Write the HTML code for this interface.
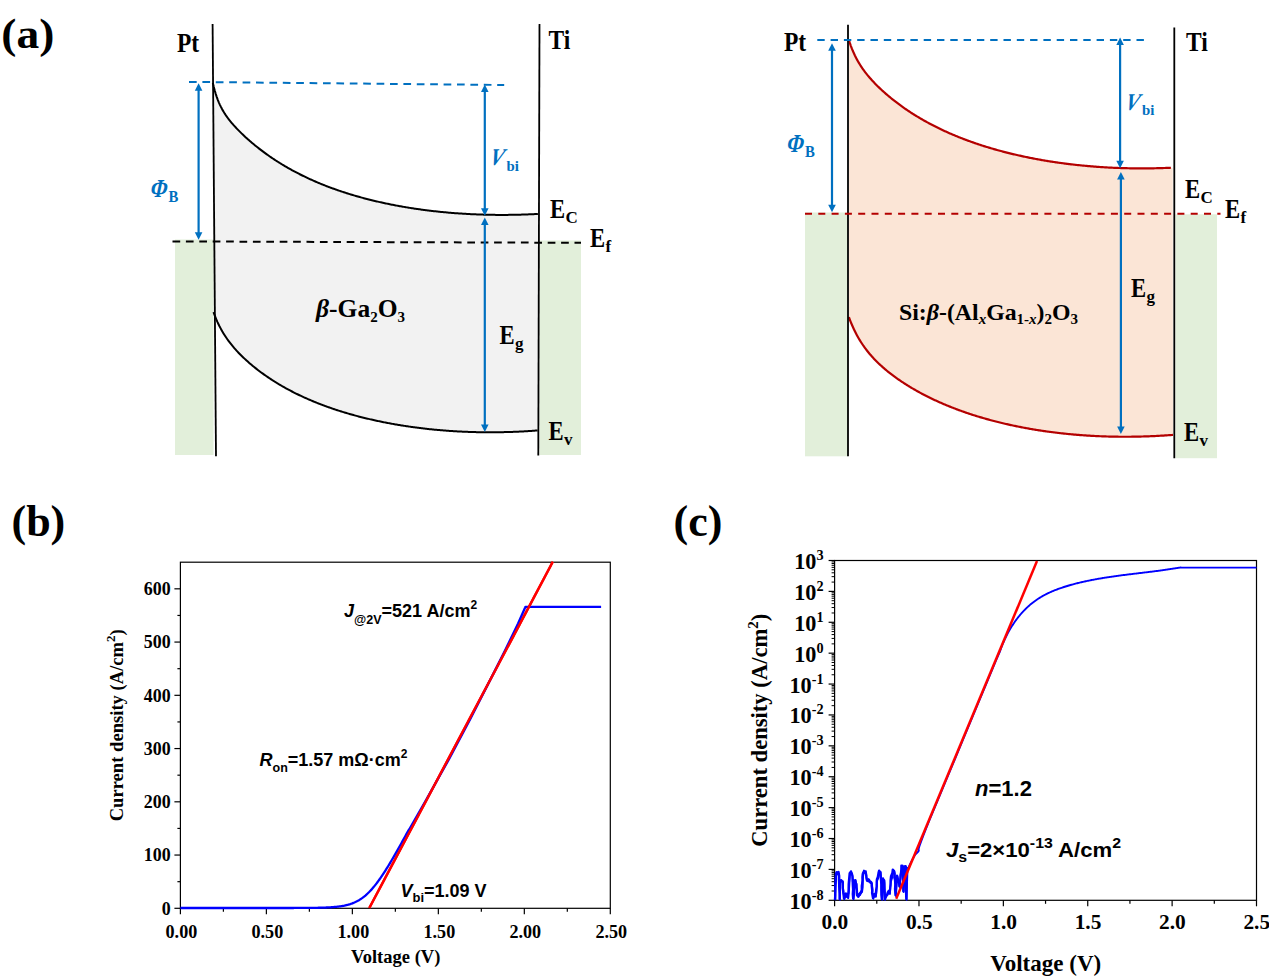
<!DOCTYPE html><html><head><meta charset="utf-8"><style>html,body{margin:0;padding:0;background:#fff;overflow:hidden}svg{display:block}</style></head><body>
<svg width="1269" height="979" viewBox="0 0 1269 979">
<rect width="1269" height="979" fill="#fff"/>
<path d="M212.80,82.71 L213.80,86.96 L214.80,90.72 L215.80,94.08 L216.80,97.09 L217.80,99.81 L218.80,102.29 L219.80,104.56 L220.80,106.64 L221.80,108.58 L222.80,110.38 L223.80,112.07 L224.80,113.67 L225.80,115.18 L226.80,116.62 L227.80,118.00 L228.80,119.33 L229.80,120.61 L230.80,121.84 L231.80,123.04 L232.80,124.21 L233.80,125.34 L234.80,126.45 L235.80,127.54 L236.80,128.60 L237.80,129.64 L238.80,130.66 L239.80,131.67 L240.80,132.66 L241.80,133.63 L242.80,134.59 L243.80,135.54 L244.80,136.47 L245.80,137.39 L246.80,138.30 L247.80,139.20 L248.80,140.08 L249.80,140.95 L250.80,141.82 L251.80,142.67 L252.80,143.51 L253.80,144.34 L254.80,145.17 L255.80,145.98 L256.80,146.78 L257.80,147.58 L258.80,148.36 L259.80,149.14 L260.80,149.91 L261.80,150.67 L262.80,151.42 L263.80,152.16 L264.80,152.90 L265.80,153.62 L266.80,154.34 L267.80,155.05 L268.80,155.76 L269.80,156.45 L270.80,157.14 L271.80,157.82 L272.80,158.49 L273.80,159.16 L274.80,159.82 L275.80,160.47 L276.80,161.12 L277.80,161.75 L278.80,162.39 L279.80,163.01 L280.80,163.63 L281.80,164.24 L282.80,164.85 L283.80,165.45 L284.80,166.04 L285.80,166.63 L286.80,167.21 L287.80,167.78 L288.80,168.35 L289.80,168.91 L290.80,169.47 L291.80,170.02 L292.80,170.57 L293.80,171.11 L294.80,171.64 L295.80,172.17 L296.80,172.70 L297.80,173.21 L298.80,173.73 L299.80,174.24 L300.80,174.74 L301.80,175.24 L302.80,175.73 L303.80,176.22 L304.80,176.70 L305.80,177.18 L306.80,177.65 L307.80,178.12 L308.80,178.59 L309.80,179.05 L310.80,179.50 L311.80,179.95 L312.80,180.40 L313.80,180.84 L314.80,181.28 L315.80,181.71 L316.80,182.14 L317.80,182.56 L318.80,182.98 L319.80,183.40 L320.80,183.81 L321.80,184.22 L322.80,184.62 L323.80,185.02 L324.80,185.42 L325.80,185.81 L326.80,186.20 L327.80,186.58 L328.80,186.96 L329.80,187.34 L330.80,187.71 L331.80,188.08 L332.80,188.45 L333.80,188.81 L334.80,189.17 L335.80,189.52 L336.80,189.87 L337.80,190.22 L338.80,190.57 L339.80,190.91 L340.80,191.25 L341.80,191.58 L342.80,191.91 L343.80,192.24 L344.80,192.57 L345.80,192.89 L346.80,193.21 L347.80,193.52 L348.80,193.84 L349.80,194.14 L350.80,194.45 L351.80,194.75 L352.80,195.05 L353.80,195.35 L354.80,195.65 L355.80,195.94 L356.80,196.23 L357.80,196.51 L358.80,196.79 L359.80,197.07 L360.80,197.35 L361.80,197.62 L362.80,197.90 L363.80,198.16 L364.80,198.43 L365.80,198.69 L366.80,198.95 L367.80,199.21 L368.80,199.47 L369.80,199.72 L370.80,199.97 L371.80,200.22 L372.80,200.46 L373.80,200.71 L374.80,200.95 L375.80,201.18 L376.80,201.42 L377.80,201.65 L378.80,201.88 L379.80,202.11 L380.80,202.33 L381.80,202.55 L382.80,202.77 L383.80,202.99 L384.80,203.21 L385.80,203.42 L386.80,203.63 L387.80,203.84 L388.80,204.05 L389.80,204.25 L390.80,204.45 L391.80,204.65 L392.80,204.85 L393.80,205.04 L394.80,205.24 L395.80,205.43 L396.80,205.61 L397.80,205.80 L398.80,205.98 L399.80,206.17 L400.80,206.35 L401.80,206.52 L402.80,206.70 L403.80,206.87 L404.80,207.04 L405.80,207.21 L406.80,207.38 L407.80,207.54 L408.80,207.71 L409.80,207.87 L410.80,208.03 L411.80,208.18 L412.80,208.34 L413.80,208.49 L414.80,208.64 L415.80,208.79 L416.80,208.94 L417.80,209.08 L418.80,209.22 L419.80,209.36 L420.80,209.50 L421.80,209.64 L422.80,209.78 L423.80,209.91 L424.80,210.04 L425.80,210.17 L426.80,210.30 L427.80,210.42 L428.80,210.55 L429.80,210.67 L430.80,210.79 L431.80,210.91 L432.80,211.02 L433.80,211.14 L434.80,211.25 L435.80,211.36 L436.80,211.47 L437.80,211.58 L438.80,211.68 L439.80,211.79 L440.80,211.89 L441.80,211.99 L442.80,212.09 L443.80,212.18 L444.80,212.28 L445.80,212.37 L446.80,212.46 L447.80,212.55 L448.80,212.64 L449.80,212.72 L450.80,212.81 L451.80,212.89 L452.80,212.97 L453.80,213.05 L454.80,213.13 L455.80,213.20 L456.80,213.28 L457.80,213.35 L458.80,213.42 L459.80,213.49 L460.80,213.56 L461.80,213.62 L462.80,213.68 L463.80,213.75 L464.80,213.81 L465.80,213.87 L466.80,213.92 L467.80,213.98 L468.80,214.03 L469.80,214.08 L470.80,214.14 L471.80,214.18 L472.80,214.23 L473.80,214.28 L474.80,214.32 L475.80,214.36 L476.80,214.40 L477.80,214.44 L478.80,214.48 L479.80,214.52 L480.80,214.55 L481.80,214.58 L482.80,214.62 L483.80,214.64 L484.80,214.67 L485.80,214.70 L486.80,214.72 L487.80,214.75 L488.80,214.77 L489.80,214.79 L490.80,214.81 L491.80,214.82 L492.80,214.84 L493.80,214.85 L494.80,214.87 L495.80,214.88 L496.80,214.89 L497.80,214.89 L498.80,214.90 L499.80,214.90 L500.80,214.91 L501.80,214.91 L502.80,214.91 L503.80,214.91 L504.80,214.90 L505.80,214.90 L506.80,214.89 L507.80,214.88 L508.80,214.87 L509.80,214.86 L510.80,214.85 L511.80,214.84 L512.80,214.82 L513.80,214.80 L514.80,214.79 L515.80,214.77 L516.80,214.74 L517.80,214.72 L518.80,214.70 L519.80,214.67 L520.80,214.64 L521.80,214.61 L522.80,214.58 L523.80,214.55 L524.80,214.52 L525.80,214.48 L526.80,214.45 L527.80,214.41 L528.80,214.37 L529.80,214.33 L530.80,214.29 L531.80,214.24 L532.80,214.20 L533.80,214.15 L534.80,214.10 L535.80,214.05 L536.80,214.00 L537.80,213.95 L537.90,213.94 L538.3,430.5 L537.60,430.45 L537.50,430.46 L536.50,430.54 L535.50,430.61 L534.50,430.68 L533.50,430.75 L532.50,430.82 L531.50,430.89 L530.50,430.96 L529.50,431.02 L528.50,431.09 L527.50,431.15 L526.50,431.21 L525.50,431.27 L524.50,431.32 L523.50,431.38 L522.50,431.43 L521.50,431.48 L520.50,431.53 L519.50,431.58 L518.50,431.63 L517.50,431.68 L516.50,431.72 L515.50,431.76 L514.50,431.80 L513.50,431.84 L512.50,431.88 L511.50,431.91 L510.50,431.95 L509.50,431.98 L508.50,432.01 L507.50,432.04 L506.50,432.07 L505.50,432.10 L504.50,432.12 L503.50,432.14 L502.50,432.16 L501.50,432.18 L500.50,432.20 L499.50,432.22 L498.50,432.23 L497.50,432.24 L496.50,432.26 L495.50,432.27 L494.50,432.27 L493.50,432.28 L492.50,432.28 L491.50,432.29 L490.50,432.29 L489.50,432.29 L488.50,432.29 L487.50,432.28 L486.50,432.28 L485.50,432.27 L484.50,432.26 L483.50,432.25 L482.50,432.24 L481.50,432.23 L480.50,432.21 L479.50,432.19 L478.50,432.18 L477.50,432.15 L476.50,432.13 L475.50,432.11 L474.50,432.08 L473.50,432.06 L472.50,432.03 L471.50,432.00 L470.50,431.96 L469.50,431.93 L468.50,431.90 L467.50,431.86 L466.50,431.82 L465.50,431.78 L464.50,431.74 L463.50,431.69 L462.50,431.65 L461.50,431.60 L460.50,431.55 L459.50,431.50 L458.50,431.44 L457.50,431.39 L456.50,431.33 L455.50,431.27 L454.50,431.21 L453.50,431.15 L452.50,431.09 L451.50,431.02 L450.50,430.96 L449.50,430.89 L448.50,430.82 L447.50,430.75 L446.50,430.67 L445.50,430.60 L444.50,430.52 L443.50,430.44 L442.50,430.36 L441.50,430.28 L440.50,430.19 L439.50,430.10 L438.50,430.02 L437.50,429.92 L436.50,429.83 L435.50,429.74 L434.50,429.64 L433.50,429.55 L432.50,429.45 L431.50,429.34 L430.50,429.24 L429.50,429.14 L428.50,429.03 L427.50,428.92 L426.50,428.81 L425.50,428.70 L424.50,428.58 L423.50,428.47 L422.50,428.35 L421.50,428.23 L420.50,428.11 L419.50,427.98 L418.50,427.86 L417.50,427.73 L416.50,427.60 L415.50,427.47 L414.50,427.33 L413.50,427.20 L412.50,427.06 L411.50,426.92 L410.50,426.78 L409.50,426.63 L408.50,426.49 L407.50,426.34 L406.50,426.19 L405.50,426.04 L404.50,425.88 L403.50,425.73 L402.50,425.57 L401.50,425.41 L400.50,425.25 L399.50,425.08 L398.50,424.92 L397.50,424.75 L396.50,424.58 L395.50,424.41 L394.50,424.23 L393.50,424.05 L392.50,423.88 L391.50,423.69 L390.50,423.51 L389.50,423.33 L388.50,423.14 L387.50,422.95 L386.50,422.76 L385.50,422.56 L384.50,422.36 L383.50,422.16 L382.50,421.96 L381.50,421.76 L380.50,421.55 L379.50,421.35 L378.50,421.13 L377.50,420.92 L376.50,420.71 L375.50,420.49 L374.50,420.27 L373.50,420.05 L372.50,419.82 L371.50,419.59 L370.50,419.36 L369.50,419.13 L368.50,418.90 L367.50,418.66 L366.50,418.42 L365.50,418.18 L364.50,417.93 L363.50,417.68 L362.50,417.43 L361.50,417.18 L360.50,416.93 L359.50,416.67 L358.50,416.41 L357.50,416.14 L356.50,415.88 L355.50,415.61 L354.50,415.34 L353.50,415.06 L352.50,414.78 L351.50,414.50 L350.50,414.22 L349.50,413.93 L348.50,413.65 L347.50,413.35 L346.50,413.06 L345.50,412.76 L344.50,412.46 L343.50,412.16 L342.50,411.85 L341.50,411.54 L340.50,411.23 L339.50,410.91 L338.50,410.59 L337.50,410.27 L336.50,409.94 L335.50,409.61 L334.50,409.28 L333.50,408.94 L332.50,408.60 L331.50,408.26 L330.50,407.91 L329.50,407.56 L328.50,407.21 L327.50,406.85 L326.50,406.49 L325.50,406.13 L324.50,405.76 L323.50,405.39 L322.50,405.01 L321.50,404.63 L320.50,404.25 L319.50,403.86 L318.50,403.47 L317.50,403.08 L316.50,402.68 L315.50,402.28 L314.50,401.87 L313.50,401.46 L312.50,401.04 L311.50,400.62 L310.50,400.20 L309.50,399.77 L308.50,399.34 L307.50,398.90 L306.50,398.46 L305.50,398.01 L304.50,397.56 L303.50,397.11 L302.50,396.64 L301.50,396.18 L300.50,395.71 L299.50,395.23 L298.50,394.75 L297.50,394.27 L296.50,393.78 L295.50,393.28 L294.50,392.78 L293.50,392.27 L292.50,391.76 L291.50,391.24 L290.50,390.72 L289.50,390.19 L288.50,389.66 L287.50,389.12 L286.50,388.57 L285.50,388.02 L284.50,387.46 L283.50,386.90 L282.50,386.32 L281.50,385.75 L280.50,385.16 L279.50,384.57 L278.50,383.98 L277.50,383.37 L276.50,382.76 L275.50,382.14 L274.50,381.52 L273.50,380.89 L272.50,380.25 L271.50,379.60 L270.50,378.95 L269.50,378.28 L268.50,377.61 L267.50,376.93 L266.50,376.25 L265.50,375.55 L264.50,374.85 L263.50,374.14 L262.50,373.42 L261.50,372.69 L260.50,371.95 L259.50,371.20 L258.50,370.44 L257.50,369.67 L256.50,368.89 L255.50,368.10 L254.50,367.30 L253.50,366.49 L252.50,365.67 L251.50,364.84 L250.50,363.99 L249.50,363.13 L248.50,362.26 L247.50,361.37 L246.50,360.48 L245.50,359.56 L244.50,358.63 L243.50,357.69 L242.50,356.73 L241.50,355.75 L240.50,354.75 L239.50,353.73 L238.50,352.69 L237.50,351.64 L236.50,350.55 L235.50,349.45 L234.50,348.31 L233.50,347.15 L232.50,345.96 L231.50,344.74 L230.50,343.48 L229.50,342.18 L228.50,340.85 L227.50,339.47 L226.50,338.04 L225.50,336.56 L224.50,335.02 L223.50,333.41 L222.50,331.74 L221.50,329.99 L220.50,328.16 L219.50,326.24 L218.50,324.21 L217.50,322.08 L216.50,319.81 L215.50,317.41 L214.50,314.86 L213.50,312.14 Z" fill="#F2F2F2"/>
<rect x="175" y="239.5" width="38.5" height="215.5" fill="#E2EFDA"/>
<rect x="539.5" y="240.5" width="41.5" height="214.5" fill="#E2EFDA"/>
<path d="M212.80,82.71 L213.80,86.96 L214.80,90.72 L215.80,94.08 L216.80,97.09 L217.80,99.81 L218.80,102.29 L219.80,104.56 L220.80,106.64 L221.80,108.58 L222.80,110.38 L223.80,112.07 L224.80,113.67 L225.80,115.18 L226.80,116.62 L227.80,118.00 L228.80,119.33 L229.80,120.61 L230.80,121.84 L231.80,123.04 L232.80,124.21 L233.80,125.34 L234.80,126.45 L235.80,127.54 L236.80,128.60 L237.80,129.64 L238.80,130.66 L239.80,131.67 L240.80,132.66 L241.80,133.63 L242.80,134.59 L243.80,135.54 L244.80,136.47 L245.80,137.39 L246.80,138.30 L247.80,139.20 L248.80,140.08 L249.80,140.95 L250.80,141.82 L251.80,142.67 L252.80,143.51 L253.80,144.34 L254.80,145.17 L255.80,145.98 L256.80,146.78 L257.80,147.58 L258.80,148.36 L259.80,149.14 L260.80,149.91 L261.80,150.67 L262.80,151.42 L263.80,152.16 L264.80,152.90 L265.80,153.62 L266.80,154.34 L267.80,155.05 L268.80,155.76 L269.80,156.45 L270.80,157.14 L271.80,157.82 L272.80,158.49 L273.80,159.16 L274.80,159.82 L275.80,160.47 L276.80,161.12 L277.80,161.75 L278.80,162.39 L279.80,163.01 L280.80,163.63 L281.80,164.24 L282.80,164.85 L283.80,165.45 L284.80,166.04 L285.80,166.63 L286.80,167.21 L287.80,167.78 L288.80,168.35 L289.80,168.91 L290.80,169.47 L291.80,170.02 L292.80,170.57 L293.80,171.11 L294.80,171.64 L295.80,172.17 L296.80,172.70 L297.80,173.21 L298.80,173.73 L299.80,174.24 L300.80,174.74 L301.80,175.24 L302.80,175.73 L303.80,176.22 L304.80,176.70 L305.80,177.18 L306.80,177.65 L307.80,178.12 L308.80,178.59 L309.80,179.05 L310.80,179.50 L311.80,179.95 L312.80,180.40 L313.80,180.84 L314.80,181.28 L315.80,181.71 L316.80,182.14 L317.80,182.56 L318.80,182.98 L319.80,183.40 L320.80,183.81 L321.80,184.22 L322.80,184.62 L323.80,185.02 L324.80,185.42 L325.80,185.81 L326.80,186.20 L327.80,186.58 L328.80,186.96 L329.80,187.34 L330.80,187.71 L331.80,188.08 L332.80,188.45 L333.80,188.81 L334.80,189.17 L335.80,189.52 L336.80,189.87 L337.80,190.22 L338.80,190.57 L339.80,190.91 L340.80,191.25 L341.80,191.58 L342.80,191.91 L343.80,192.24 L344.80,192.57 L345.80,192.89 L346.80,193.21 L347.80,193.52 L348.80,193.84 L349.80,194.14 L350.80,194.45 L351.80,194.75 L352.80,195.05 L353.80,195.35 L354.80,195.65 L355.80,195.94 L356.80,196.23 L357.80,196.51 L358.80,196.79 L359.80,197.07 L360.80,197.35 L361.80,197.62 L362.80,197.90 L363.80,198.16 L364.80,198.43 L365.80,198.69 L366.80,198.95 L367.80,199.21 L368.80,199.47 L369.80,199.72 L370.80,199.97 L371.80,200.22 L372.80,200.46 L373.80,200.71 L374.80,200.95 L375.80,201.18 L376.80,201.42 L377.80,201.65 L378.80,201.88 L379.80,202.11 L380.80,202.33 L381.80,202.55 L382.80,202.77 L383.80,202.99 L384.80,203.21 L385.80,203.42 L386.80,203.63 L387.80,203.84 L388.80,204.05 L389.80,204.25 L390.80,204.45 L391.80,204.65 L392.80,204.85 L393.80,205.04 L394.80,205.24 L395.80,205.43 L396.80,205.61 L397.80,205.80 L398.80,205.98 L399.80,206.17 L400.80,206.35 L401.80,206.52 L402.80,206.70 L403.80,206.87 L404.80,207.04 L405.80,207.21 L406.80,207.38 L407.80,207.54 L408.80,207.71 L409.80,207.87 L410.80,208.03 L411.80,208.18 L412.80,208.34 L413.80,208.49 L414.80,208.64 L415.80,208.79 L416.80,208.94 L417.80,209.08 L418.80,209.22 L419.80,209.36 L420.80,209.50 L421.80,209.64 L422.80,209.78 L423.80,209.91 L424.80,210.04 L425.80,210.17 L426.80,210.30 L427.80,210.42 L428.80,210.55 L429.80,210.67 L430.80,210.79 L431.80,210.91 L432.80,211.02 L433.80,211.14 L434.80,211.25 L435.80,211.36 L436.80,211.47 L437.80,211.58 L438.80,211.68 L439.80,211.79 L440.80,211.89 L441.80,211.99 L442.80,212.09 L443.80,212.18 L444.80,212.28 L445.80,212.37 L446.80,212.46 L447.80,212.55 L448.80,212.64 L449.80,212.72 L450.80,212.81 L451.80,212.89 L452.80,212.97 L453.80,213.05 L454.80,213.13 L455.80,213.20 L456.80,213.28 L457.80,213.35 L458.80,213.42 L459.80,213.49 L460.80,213.56 L461.80,213.62 L462.80,213.68 L463.80,213.75 L464.80,213.81 L465.80,213.87 L466.80,213.92 L467.80,213.98 L468.80,214.03 L469.80,214.08 L470.80,214.14 L471.80,214.18 L472.80,214.23 L473.80,214.28 L474.80,214.32 L475.80,214.36 L476.80,214.40 L477.80,214.44 L478.80,214.48 L479.80,214.52 L480.80,214.55 L481.80,214.58 L482.80,214.62 L483.80,214.64 L484.80,214.67 L485.80,214.70 L486.80,214.72 L487.80,214.75 L488.80,214.77 L489.80,214.79 L490.80,214.81 L491.80,214.82 L492.80,214.84 L493.80,214.85 L494.80,214.87 L495.80,214.88 L496.80,214.89 L497.80,214.89 L498.80,214.90 L499.80,214.90 L500.80,214.91 L501.80,214.91 L502.80,214.91 L503.80,214.91 L504.80,214.90 L505.80,214.90 L506.80,214.89 L507.80,214.88 L508.80,214.87 L509.80,214.86 L510.80,214.85 L511.80,214.84 L512.80,214.82 L513.80,214.80 L514.80,214.79 L515.80,214.77 L516.80,214.74 L517.80,214.72 L518.80,214.70 L519.80,214.67 L520.80,214.64 L521.80,214.61 L522.80,214.58 L523.80,214.55 L524.80,214.52 L525.80,214.48 L526.80,214.45 L527.80,214.41 L528.80,214.37 L529.80,214.33 L530.80,214.29 L531.80,214.24 L532.80,214.20 L533.80,214.15 L534.80,214.10 L535.80,214.05 L536.80,214.00 L537.80,213.95 L537.90,213.94" fill="none" stroke="#000" stroke-width="2"/>
<path d="M213.50,312.14 L214.50,314.86 L215.50,317.41 L216.50,319.81 L217.50,322.08 L218.50,324.21 L219.50,326.24 L220.50,328.16 L221.50,329.99 L222.50,331.74 L223.50,333.41 L224.50,335.02 L225.50,336.56 L226.50,338.04 L227.50,339.47 L228.50,340.85 L229.50,342.18 L230.50,343.48 L231.50,344.74 L232.50,345.96 L233.50,347.15 L234.50,348.31 L235.50,349.45 L236.50,350.55 L237.50,351.64 L238.50,352.69 L239.50,353.73 L240.50,354.75 L241.50,355.75 L242.50,356.73 L243.50,357.69 L244.50,358.63 L245.50,359.56 L246.50,360.48 L247.50,361.37 L248.50,362.26 L249.50,363.13 L250.50,363.99 L251.50,364.84 L252.50,365.67 L253.50,366.49 L254.50,367.30 L255.50,368.10 L256.50,368.89 L257.50,369.67 L258.50,370.44 L259.50,371.20 L260.50,371.95 L261.50,372.69 L262.50,373.42 L263.50,374.14 L264.50,374.85 L265.50,375.55 L266.50,376.25 L267.50,376.93 L268.50,377.61 L269.50,378.28 L270.50,378.95 L271.50,379.60 L272.50,380.25 L273.50,380.89 L274.50,381.52 L275.50,382.14 L276.50,382.76 L277.50,383.37 L278.50,383.98 L279.50,384.57 L280.50,385.16 L281.50,385.75 L282.50,386.32 L283.50,386.90 L284.50,387.46 L285.50,388.02 L286.50,388.57 L287.50,389.12 L288.50,389.66 L289.50,390.19 L290.50,390.72 L291.50,391.24 L292.50,391.76 L293.50,392.27 L294.50,392.78 L295.50,393.28 L296.50,393.78 L297.50,394.27 L298.50,394.75 L299.50,395.23 L300.50,395.71 L301.50,396.18 L302.50,396.64 L303.50,397.11 L304.50,397.56 L305.50,398.01 L306.50,398.46 L307.50,398.90 L308.50,399.34 L309.50,399.77 L310.50,400.20 L311.50,400.62 L312.50,401.04 L313.50,401.46 L314.50,401.87 L315.50,402.28 L316.50,402.68 L317.50,403.08 L318.50,403.47 L319.50,403.86 L320.50,404.25 L321.50,404.63 L322.50,405.01 L323.50,405.39 L324.50,405.76 L325.50,406.13 L326.50,406.49 L327.50,406.85 L328.50,407.21 L329.50,407.56 L330.50,407.91 L331.50,408.26 L332.50,408.60 L333.50,408.94 L334.50,409.28 L335.50,409.61 L336.50,409.94 L337.50,410.27 L338.50,410.59 L339.50,410.91 L340.50,411.23 L341.50,411.54 L342.50,411.85 L343.50,412.16 L344.50,412.46 L345.50,412.76 L346.50,413.06 L347.50,413.35 L348.50,413.65 L349.50,413.93 L350.50,414.22 L351.50,414.50 L352.50,414.78 L353.50,415.06 L354.50,415.34 L355.50,415.61 L356.50,415.88 L357.50,416.14 L358.50,416.41 L359.50,416.67 L360.50,416.93 L361.50,417.18 L362.50,417.43 L363.50,417.68 L364.50,417.93 L365.50,418.18 L366.50,418.42 L367.50,418.66 L368.50,418.90 L369.50,419.13 L370.50,419.36 L371.50,419.59 L372.50,419.82 L373.50,420.05 L374.50,420.27 L375.50,420.49 L376.50,420.71 L377.50,420.92 L378.50,421.13 L379.50,421.35 L380.50,421.55 L381.50,421.76 L382.50,421.96 L383.50,422.16 L384.50,422.36 L385.50,422.56 L386.50,422.76 L387.50,422.95 L388.50,423.14 L389.50,423.33 L390.50,423.51 L391.50,423.69 L392.50,423.88 L393.50,424.05 L394.50,424.23 L395.50,424.41 L396.50,424.58 L397.50,424.75 L398.50,424.92 L399.50,425.08 L400.50,425.25 L401.50,425.41 L402.50,425.57 L403.50,425.73 L404.50,425.88 L405.50,426.04 L406.50,426.19 L407.50,426.34 L408.50,426.49 L409.50,426.63 L410.50,426.78 L411.50,426.92 L412.50,427.06 L413.50,427.20 L414.50,427.33 L415.50,427.47 L416.50,427.60 L417.50,427.73 L418.50,427.86 L419.50,427.98 L420.50,428.11 L421.50,428.23 L422.50,428.35 L423.50,428.47 L424.50,428.58 L425.50,428.70 L426.50,428.81 L427.50,428.92 L428.50,429.03 L429.50,429.14 L430.50,429.24 L431.50,429.34 L432.50,429.45 L433.50,429.55 L434.50,429.64 L435.50,429.74 L436.50,429.83 L437.50,429.92 L438.50,430.02 L439.50,430.10 L440.50,430.19 L441.50,430.28 L442.50,430.36 L443.50,430.44 L444.50,430.52 L445.50,430.60 L446.50,430.67 L447.50,430.75 L448.50,430.82 L449.50,430.89 L450.50,430.96 L451.50,431.02 L452.50,431.09 L453.50,431.15 L454.50,431.21 L455.50,431.27 L456.50,431.33 L457.50,431.39 L458.50,431.44 L459.50,431.50 L460.50,431.55 L461.50,431.60 L462.50,431.65 L463.50,431.69 L464.50,431.74 L465.50,431.78 L466.50,431.82 L467.50,431.86 L468.50,431.90 L469.50,431.93 L470.50,431.96 L471.50,432.00 L472.50,432.03 L473.50,432.06 L474.50,432.08 L475.50,432.11 L476.50,432.13 L477.50,432.15 L478.50,432.18 L479.50,432.19 L480.50,432.21 L481.50,432.23 L482.50,432.24 L483.50,432.25 L484.50,432.26 L485.50,432.27 L486.50,432.28 L487.50,432.28 L488.50,432.29 L489.50,432.29 L490.50,432.29 L491.50,432.29 L492.50,432.28 L493.50,432.28 L494.50,432.27 L495.50,432.27 L496.50,432.26 L497.50,432.24 L498.50,432.23 L499.50,432.22 L500.50,432.20 L501.50,432.18 L502.50,432.16 L503.50,432.14 L504.50,432.12 L505.50,432.10 L506.50,432.07 L507.50,432.04 L508.50,432.01 L509.50,431.98 L510.50,431.95 L511.50,431.91 L512.50,431.88 L513.50,431.84 L514.50,431.80 L515.50,431.76 L516.50,431.72 L517.50,431.68 L518.50,431.63 L519.50,431.58 L520.50,431.53 L521.50,431.48 L522.50,431.43 L523.50,431.38 L524.50,431.32 L525.50,431.27 L526.50,431.21 L527.50,431.15 L528.50,431.09 L529.50,431.02 L530.50,430.96 L531.50,430.89 L532.50,430.82 L533.50,430.75 L534.50,430.68 L535.50,430.61 L536.50,430.54 L537.50,430.46 L537.60,430.45" fill="none" stroke="#000" stroke-width="2"/>
<line x1="212.6" y1="24" x2="216" y2="456.3" stroke="#000" stroke-width="1.8"/>
<line x1="539.5" y1="24" x2="538.3" y2="455.5" stroke="#000" stroke-width="1.8"/>
<line x1="189" y1="81.9" x2="504.2" y2="85" stroke="#0070C0" stroke-width="2" stroke-dasharray="7.7 5.7"/>
<line x1="172.5" y1="241.4" x2="581" y2="242.8" stroke="#000" stroke-width="2" stroke-dasharray="7.7 5.7"/>
<line x1="198.60" y1="89.70" x2="198.60" y2="233.30" stroke="#0070C0" stroke-width="2.20"/><path d="M198.60,83.20 L194.80,90.70 L202.40,90.70 Z" fill="#0070C0"/><path d="M198.60,239.80 L194.80,232.30 L202.40,232.30 Z" fill="#0070C0"/>
<line x1="484.80" y1="91.00" x2="484.80" y2="209.30" stroke="#0070C0" stroke-width="2.20"/><path d="M484.80,84.50 L481.00,92.00 L488.60,92.00 Z" fill="#0070C0"/><path d="M484.80,215.80 L481.00,208.30 L488.60,208.30 Z" fill="#0070C0"/>
<line x1="484.80" y1="224.10" x2="484.80" y2="425.50" stroke="#0070C0" stroke-width="2.20"/><path d="M484.80,217.60 L481.00,225.10 L488.60,225.10 Z" fill="#0070C0"/><path d="M484.80,432.00 L481.00,424.50 L488.60,424.50 Z" fill="#0070C0"/>
<g transform="translate(1.30,47.80) scale(1.0700,1.0000)"><text x="0" y="0" font-family='"Liberation Serif", serif' font-size="42.50" font-weight="bold" font-style="normal" fill="#000" text-anchor="start" >(a)</text></g>
<g transform="translate(177.00,52.00) scale(0.8700,1.0000)"><text x="0" y="0" font-family='"Liberation Serif", serif' font-size="27.00" font-weight="bold" font-style="normal" fill="#000" text-anchor="start" >Pt</text></g>
<g transform="translate(548.50,48.90) scale(0.8700,1.0000)"><text x="0" y="0" font-family='"Liberation Serif", serif' font-size="27.00" font-weight="bold" font-style="normal" fill="#000" text-anchor="start" >Ti</text></g>
<g transform="translate(149.00,197.30) skewX(-12) scale(0.8,1)"><text x="0" y="0" font-family='"Liberation Serif", serif' font-size="25.8" font-weight="bold" fill="#0070C0">Φ</text></g><g transform="translate(168.60,202.40) scale(0.8800,1.0000)"><text x="0" y="0" font-family='"Liberation Serif", serif' font-size="16.80" font-weight="bold" font-style="normal" fill="#0070C0" text-anchor="start" >B</text></g>
<g transform="translate(488.50,165.00) skewX(-14) scale(0.86,1)"><text x="0" y="0" font-family='"Liberation Serif", serif' font-size="24" font-weight="bold" font-style="italic" fill="#0070C0">V</text></g><g transform="translate(506.50,170.60)"><text x="0" y="0" font-family='"Liberation Serif", serif' font-size="14.80" font-weight="bold" font-style="normal" fill="#0070C0" text-anchor="start" >bi</text></g>
<g transform="translate(550.00,217.70) scale(0.8600,1.0000)"><text x="0" y="0" font-family='"Liberation Serif", serif' font-size="26.40" font-weight="bold" font-style="normal" fill="#000" text-anchor="start" >E</text></g><g transform="translate(565.50,222.70)"><text x="0" y="0" font-family='"Liberation Serif", serif' font-size="17.00" font-weight="bold" font-style="normal" fill="#000" text-anchor="start" >C</text></g>
<g transform="translate(590.00,247.00) scale(0.8600,1.0000)"><text x="0" y="0" font-family='"Liberation Serif", serif' font-size="26.40" font-weight="bold" font-style="normal" fill="#000" text-anchor="start" >E</text></g><g transform="translate(605.50,252.00)"><text x="0" y="0" font-family='"Liberation Serif", serif' font-size="17.00" font-weight="bold" font-style="normal" fill="#000" text-anchor="start" >f</text></g>
<g transform="translate(499.50,343.50) scale(0.8600,1.0000)"><text x="0" y="0" font-family='"Liberation Serif", serif' font-size="26.40" font-weight="bold" font-style="normal" fill="#000" text-anchor="start" >E</text></g><g transform="translate(515.00,348.50)"><text x="0" y="0" font-family='"Liberation Serif", serif' font-size="17.00" font-weight="bold" font-style="normal" fill="#000" text-anchor="start" >g</text></g>
<g transform="translate(548.50,440.30) scale(0.8600,1.0000)"><text x="0" y="0" font-family='"Liberation Serif", serif' font-size="26.40" font-weight="bold" font-style="normal" fill="#000" text-anchor="start" >E</text></g><g transform="translate(564.00,445.30)"><text x="0" y="0" font-family='"Liberation Serif", serif' font-size="17.00" font-weight="bold" font-style="normal" fill="#000" text-anchor="start" >v</text></g>
<g transform="translate(316.00,317.00)"><text x="0" y="0" font-family='"Liberation Serif", serif' font-size="25.50" font-weight="bold" font-style="normal" fill="#000" text-anchor="start" ><tspan font-style="italic">β</tspan>-Ga<tspan font-size="15" dy="4.5">2</tspan><tspan dy="-4.5">O</tspan><tspan font-size="15" dy="4.5">3</tspan></text></g>
<path d="M848.90,40.19 L849.90,43.21 L850.90,46.02 L851.90,48.63 L852.90,51.06 L853.90,53.33 L854.90,55.47 L855.90,57.48 L856.90,59.39 L857.90,61.19 L858.90,62.91 L859.90,64.55 L860.90,66.12 L861.90,67.62 L862.90,69.06 L863.90,70.46 L864.90,71.81 L865.90,73.11 L866.90,74.37 L867.90,75.60 L868.90,76.80 L869.90,77.96 L870.90,79.10 L871.90,80.21 L872.90,81.30 L873.90,82.37 L874.90,83.41 L875.90,84.44 L876.90,85.44 L877.90,86.43 L878.90,87.41 L879.90,88.36 L880.90,89.30 L881.90,90.23 L882.90,91.15 L883.90,92.05 L884.90,92.93 L885.90,93.81 L886.90,94.67 L887.90,95.53 L888.90,96.37 L889.90,97.20 L890.90,98.02 L891.90,98.83 L892.90,99.63 L893.90,100.42 L894.90,101.20 L895.90,101.97 L896.90,102.74 L897.90,103.49 L898.90,104.24 L899.90,104.97 L900.90,105.70 L901.90,106.42 L902.90,107.14 L903.90,107.84 L904.90,108.54 L905.90,109.22 L906.90,109.91 L907.90,110.58 L908.90,111.25 L909.90,111.91 L910.90,112.56 L911.90,113.20 L912.90,113.84 L913.90,114.47 L914.90,115.10 L915.90,115.72 L916.90,116.33 L917.90,116.93 L918.90,117.53 L919.90,118.13 L920.90,118.71 L921.90,119.29 L922.90,119.87 L923.90,120.44 L924.90,121.00 L925.90,121.56 L926.90,122.11 L927.90,122.66 L928.90,123.20 L929.90,123.73 L930.90,124.26 L931.90,124.79 L932.90,125.31 L933.90,125.82 L934.90,126.33 L935.90,126.83 L936.90,127.33 L937.90,127.83 L938.90,128.31 L939.90,128.80 L940.90,129.28 L941.90,129.75 L942.90,130.22 L943.90,130.69 L944.90,131.15 L945.90,131.61 L946.90,132.06 L947.90,132.51 L948.90,132.95 L949.90,133.39 L950.90,133.82 L951.90,134.26 L952.90,134.68 L953.90,135.10 L954.90,135.52 L955.90,135.94 L956.90,136.35 L957.90,136.75 L958.90,137.16 L959.90,137.56 L960.90,137.95 L961.90,138.34 L962.90,138.73 L963.90,139.12 L964.90,139.50 L965.90,139.87 L966.90,140.25 L967.90,140.62 L968.90,140.98 L969.90,141.34 L970.90,141.70 L971.90,142.06 L972.90,142.41 L973.90,142.76 L974.90,143.11 L975.90,143.45 L976.90,143.79 L977.90,144.13 L978.90,144.46 L979.90,144.79 L980.90,145.12 L981.90,145.44 L982.90,145.76 L983.90,146.08 L984.90,146.39 L985.90,146.71 L986.90,147.01 L987.90,147.32 L988.90,147.62 L989.90,147.92 L990.90,148.22 L991.90,148.52 L992.90,148.81 L993.90,149.10 L994.90,149.38 L995.90,149.67 L996.90,149.95 L997.90,150.22 L998.90,150.50 L999.90,150.77 L1000.90,151.04 L1001.90,151.31 L1002.90,151.57 L1003.90,151.84 L1004.90,152.10 L1005.90,152.35 L1006.90,152.61 L1007.90,152.86 L1008.90,153.11 L1009.90,153.36 L1010.90,153.60 L1011.90,153.84 L1012.90,154.08 L1013.90,154.32 L1014.90,154.55 L1015.90,154.79 L1016.90,155.02 L1017.90,155.25 L1018.90,155.47 L1019.90,155.69 L1020.90,155.92 L1021.90,156.13 L1022.90,156.35 L1023.90,156.56 L1024.90,156.78 L1025.90,156.99 L1026.90,157.19 L1027.90,157.40 L1028.90,157.60 L1029.90,157.80 L1030.90,158.00 L1031.90,158.20 L1032.90,158.39 L1033.90,158.59 L1034.90,158.78 L1035.90,158.96 L1036.90,159.15 L1037.90,159.33 L1038.90,159.52 L1039.90,159.69 L1040.90,159.87 L1041.90,160.05 L1042.90,160.22 L1043.90,160.39 L1044.90,160.56 L1045.90,160.73 L1046.90,160.90 L1047.90,161.06 L1048.90,161.22 L1049.90,161.38 L1050.90,161.54 L1051.90,161.69 L1052.90,161.85 L1053.90,162.00 L1054.90,162.15 L1055.90,162.30 L1056.90,162.44 L1057.90,162.59 L1058.90,162.73 L1059.90,162.87 L1060.90,163.01 L1061.90,163.14 L1062.90,163.28 L1063.90,163.41 L1064.90,163.54 L1065.90,163.67 L1066.90,163.80 L1067.90,163.92 L1068.90,164.05 L1069.90,164.17 L1070.90,164.29 L1071.90,164.41 L1072.90,164.52 L1073.90,164.64 L1074.90,164.75 L1075.90,164.86 L1076.90,164.97 L1077.90,165.07 L1078.90,165.18 L1079.90,165.28 L1080.90,165.39 L1081.90,165.49 L1082.90,165.58 L1083.90,165.68 L1084.90,165.77 L1085.90,165.87 L1086.90,165.96 L1087.90,166.05 L1088.90,166.14 L1089.90,166.22 L1090.90,166.31 L1091.90,166.39 L1092.90,166.47 L1093.90,166.55 L1094.90,166.63 L1095.90,166.70 L1096.90,166.78 L1097.90,166.85 L1098.90,166.92 L1099.90,166.99 L1100.90,167.06 L1101.90,167.12 L1102.90,167.19 L1103.90,167.25 L1104.90,167.31 L1105.90,167.37 L1106.90,167.42 L1107.90,167.48 L1108.90,167.53 L1109.90,167.59 L1110.90,167.64 L1111.90,167.69 L1112.90,167.73 L1113.90,167.78 L1114.90,167.82 L1115.90,167.86 L1116.90,167.91 L1117.90,167.94 L1118.90,167.98 L1119.90,168.02 L1120.90,168.05 L1121.90,168.08 L1122.90,168.12 L1123.90,168.14 L1124.90,168.17 L1125.90,168.20 L1126.90,168.22 L1127.90,168.25 L1128.90,168.27 L1129.90,168.29 L1130.90,168.30 L1131.90,168.32 L1132.90,168.34 L1133.90,168.35 L1134.90,168.36 L1135.90,168.37 L1136.90,168.38 L1137.90,168.39 L1138.90,168.39 L1139.90,168.40 L1140.90,168.40 L1141.90,168.40 L1142.90,168.40 L1143.90,168.39 L1144.90,168.39 L1145.90,168.38 L1146.90,168.38 L1147.90,168.37 L1148.90,168.36 L1149.90,168.35 L1150.90,168.33 L1151.90,168.32 L1152.90,168.30 L1153.90,168.28 L1154.90,168.26 L1155.90,168.24 L1156.90,168.22 L1157.90,168.19 L1158.90,168.17 L1159.90,168.14 L1160.90,168.11 L1161.90,168.08 L1162.90,168.05 L1163.90,168.01 L1164.90,167.98 L1165.90,167.94 L1166.90,167.90 L1167.90,167.86 L1168.90,167.82 L1169.90,167.78 L1170.90,167.73 L1170.90,167.73 L1172.7,167.7 L1173.00,434.89 L1172.90,434.90 L1171.90,434.98 L1170.90,435.05 L1169.90,435.13 L1168.90,435.20 L1167.90,435.27 L1166.90,435.33 L1165.90,435.40 L1164.90,435.47 L1163.90,435.53 L1162.90,435.59 L1161.90,435.65 L1160.90,435.71 L1159.90,435.77 L1158.90,435.82 L1157.90,435.88 L1156.90,435.93 L1155.90,435.98 L1154.90,436.03 L1153.90,436.08 L1152.90,436.12 L1151.90,436.17 L1150.90,436.21 L1149.90,436.25 L1148.90,436.29 L1147.90,436.33 L1146.90,436.37 L1145.90,436.40 L1144.90,436.43 L1143.90,436.47 L1142.90,436.50 L1141.90,436.52 L1140.90,436.55 L1139.90,436.58 L1138.90,436.60 L1137.90,436.62 L1136.90,436.64 L1135.90,436.66 L1134.90,436.68 L1133.90,436.69 L1132.90,436.71 L1131.90,436.72 L1130.90,436.73 L1129.90,436.74 L1128.90,436.74 L1127.90,436.75 L1126.90,436.75 L1125.90,436.76 L1124.90,436.76 L1123.90,436.76 L1122.90,436.75 L1121.90,436.75 L1120.90,436.74 L1119.90,436.74 L1118.90,436.73 L1117.90,436.71 L1116.90,436.70 L1115.90,436.69 L1114.90,436.67 L1113.90,436.65 L1112.90,436.63 L1111.90,436.61 L1110.90,436.59 L1109.90,436.57 L1108.90,436.54 L1107.90,436.51 L1106.90,436.48 L1105.90,436.45 L1104.90,436.42 L1103.90,436.38 L1102.90,436.35 L1101.90,436.31 L1100.90,436.27 L1099.90,436.23 L1098.90,436.19 L1097.90,436.14 L1096.90,436.09 L1095.90,436.05 L1094.90,436.00 L1093.90,435.94 L1092.90,435.89 L1091.90,435.84 L1090.90,435.78 L1089.90,435.72 L1088.90,435.66 L1087.90,435.60 L1086.90,435.53 L1085.90,435.47 L1084.90,435.40 L1083.90,435.33 L1082.90,435.26 L1081.90,435.19 L1080.90,435.11 L1079.90,435.03 L1078.90,434.96 L1077.90,434.88 L1076.90,434.79 L1075.90,434.71 L1074.90,434.62 L1073.90,434.54 L1072.90,434.45 L1071.90,434.36 L1070.90,434.26 L1069.90,434.17 L1068.90,434.07 L1067.90,433.97 L1066.90,433.87 L1065.90,433.77 L1064.90,433.67 L1063.90,433.56 L1062.90,433.45 L1061.90,433.34 L1060.90,433.23 L1059.90,433.12 L1058.90,433.00 L1057.90,432.89 L1056.90,432.77 L1055.90,432.65 L1054.90,432.52 L1053.90,432.40 L1052.90,432.27 L1051.90,432.14 L1050.90,432.01 L1049.90,431.88 L1048.90,431.74 L1047.90,431.61 L1046.90,431.47 L1045.90,431.33 L1044.90,431.18 L1043.90,431.04 L1042.90,430.89 L1041.90,430.74 L1040.90,430.59 L1039.90,430.44 L1038.90,430.29 L1037.90,430.13 L1036.90,429.97 L1035.90,429.81 L1034.90,429.64 L1033.90,429.48 L1032.90,429.31 L1031.90,429.14 L1030.90,428.97 L1029.90,428.80 L1028.90,428.62 L1027.90,428.44 L1026.90,428.26 L1025.90,428.08 L1024.90,427.89 L1023.90,427.71 L1022.90,427.52 L1021.90,427.33 L1020.90,427.13 L1019.90,426.94 L1018.90,426.74 L1017.90,426.54 L1016.90,426.34 L1015.90,426.13 L1014.90,425.92 L1013.90,425.71 L1012.90,425.50 L1011.90,425.29 L1010.90,425.07 L1009.90,424.85 L1008.90,424.63 L1007.90,424.41 L1006.90,424.18 L1005.90,423.95 L1004.90,423.72 L1003.90,423.49 L1002.90,423.25 L1001.90,423.01 L1000.90,422.77 L999.90,422.53 L998.90,422.28 L997.90,422.03 L996.90,421.78 L995.90,421.53 L994.90,421.27 L993.90,421.01 L992.90,420.75 L991.90,420.48 L990.90,420.21 L989.90,419.94 L988.90,419.67 L987.90,419.40 L986.90,419.12 L985.90,418.84 L984.90,418.55 L983.90,418.27 L982.90,417.98 L981.90,417.68 L980.90,417.39 L979.90,417.09 L978.90,416.79 L977.90,416.48 L976.90,416.18 L975.90,415.87 L974.90,415.55 L973.90,415.24 L972.90,414.92 L971.90,414.59 L970.90,414.27 L969.90,413.94 L968.90,413.60 L967.90,413.27 L966.90,412.93 L965.90,412.59 L964.90,412.24 L963.90,411.89 L962.90,411.54 L961.90,411.18 L960.90,410.83 L959.90,410.46 L958.90,410.10 L957.90,409.73 L956.90,409.35 L955.90,408.98 L954.90,408.59 L953.90,408.21 L952.90,407.82 L951.90,407.43 L950.90,407.03 L949.90,406.63 L948.90,406.23 L947.90,405.82 L946.90,405.41 L945.90,405.00 L944.90,404.58 L943.90,404.15 L942.90,403.72 L941.90,403.29 L940.90,402.85 L939.90,402.41 L938.90,401.97 L937.90,401.52 L936.90,401.06 L935.90,400.61 L934.90,400.14 L933.90,399.67 L932.90,399.20 L931.90,398.72 L930.90,398.24 L929.90,397.76 L928.90,397.26 L927.90,396.77 L926.90,396.26 L925.90,395.76 L924.90,395.24 L923.90,394.73 L922.90,394.20 L921.90,393.67 L920.90,393.14 L919.90,392.60 L918.90,392.05 L917.90,391.50 L916.90,390.95 L915.90,390.38 L914.90,389.81 L913.90,389.24 L912.90,388.65 L911.90,388.07 L910.90,387.47 L909.90,386.87 L908.90,386.26 L907.90,385.64 L906.90,385.02 L905.90,384.39 L904.90,383.75 L903.90,383.11 L902.90,382.45 L901.90,381.79 L900.90,381.12 L899.90,380.44 L898.90,379.76 L897.90,379.06 L896.90,378.36 L895.90,377.64 L894.90,376.92 L893.90,376.18 L892.90,375.44 L891.90,374.68 L890.90,373.92 L889.90,373.14 L888.90,372.35 L887.90,371.55 L886.90,370.73 L885.90,369.90 L884.90,369.06 L883.90,368.20 L882.90,367.33 L881.90,366.44 L880.90,365.54 L879.90,364.61 L878.90,363.67 L877.90,362.71 L876.90,361.73 L875.90,360.73 L874.90,359.70 L873.90,358.65 L872.90,357.57 L871.90,356.47 L870.90,355.34 L869.90,354.18 L868.90,352.98 L867.90,351.75 L866.90,350.49 L865.90,349.18 L864.90,347.83 L863.90,346.44 L862.90,345.00 L861.90,343.51 L860.90,341.96 L859.90,340.36 L858.90,338.69 L857.90,336.95 L856.90,335.14 L855.90,333.25 L854.90,331.27 L853.90,329.20 L852.90,327.04 L851.90,324.77 L850.90,322.38 L849.90,319.87 L848.90,317.22 Z" fill="#FBE5D6"/>
<rect x="805" y="212.5" width="43" height="243.8" fill="#E2EFDA"/>
<rect x="1175.5" y="214.3" width="41.5" height="243.9" fill="#E2EFDA"/>
<path d="M848.90,40.19 L849.90,43.21 L850.90,46.02 L851.90,48.63 L852.90,51.06 L853.90,53.33 L854.90,55.47 L855.90,57.48 L856.90,59.39 L857.90,61.19 L858.90,62.91 L859.90,64.55 L860.90,66.12 L861.90,67.62 L862.90,69.06 L863.90,70.46 L864.90,71.81 L865.90,73.11 L866.90,74.37 L867.90,75.60 L868.90,76.80 L869.90,77.96 L870.90,79.10 L871.90,80.21 L872.90,81.30 L873.90,82.37 L874.90,83.41 L875.90,84.44 L876.90,85.44 L877.90,86.43 L878.90,87.41 L879.90,88.36 L880.90,89.30 L881.90,90.23 L882.90,91.15 L883.90,92.05 L884.90,92.93 L885.90,93.81 L886.90,94.67 L887.90,95.53 L888.90,96.37 L889.90,97.20 L890.90,98.02 L891.90,98.83 L892.90,99.63 L893.90,100.42 L894.90,101.20 L895.90,101.97 L896.90,102.74 L897.90,103.49 L898.90,104.24 L899.90,104.97 L900.90,105.70 L901.90,106.42 L902.90,107.14 L903.90,107.84 L904.90,108.54 L905.90,109.22 L906.90,109.91 L907.90,110.58 L908.90,111.25 L909.90,111.91 L910.90,112.56 L911.90,113.20 L912.90,113.84 L913.90,114.47 L914.90,115.10 L915.90,115.72 L916.90,116.33 L917.90,116.93 L918.90,117.53 L919.90,118.13 L920.90,118.71 L921.90,119.29 L922.90,119.87 L923.90,120.44 L924.90,121.00 L925.90,121.56 L926.90,122.11 L927.90,122.66 L928.90,123.20 L929.90,123.73 L930.90,124.26 L931.90,124.79 L932.90,125.31 L933.90,125.82 L934.90,126.33 L935.90,126.83 L936.90,127.33 L937.90,127.83 L938.90,128.31 L939.90,128.80 L940.90,129.28 L941.90,129.75 L942.90,130.22 L943.90,130.69 L944.90,131.15 L945.90,131.61 L946.90,132.06 L947.90,132.51 L948.90,132.95 L949.90,133.39 L950.90,133.82 L951.90,134.26 L952.90,134.68 L953.90,135.10 L954.90,135.52 L955.90,135.94 L956.90,136.35 L957.90,136.75 L958.90,137.16 L959.90,137.56 L960.90,137.95 L961.90,138.34 L962.90,138.73 L963.90,139.12 L964.90,139.50 L965.90,139.87 L966.90,140.25 L967.90,140.62 L968.90,140.98 L969.90,141.34 L970.90,141.70 L971.90,142.06 L972.90,142.41 L973.90,142.76 L974.90,143.11 L975.90,143.45 L976.90,143.79 L977.90,144.13 L978.90,144.46 L979.90,144.79 L980.90,145.12 L981.90,145.44 L982.90,145.76 L983.90,146.08 L984.90,146.39 L985.90,146.71 L986.90,147.01 L987.90,147.32 L988.90,147.62 L989.90,147.92 L990.90,148.22 L991.90,148.52 L992.90,148.81 L993.90,149.10 L994.90,149.38 L995.90,149.67 L996.90,149.95 L997.90,150.22 L998.90,150.50 L999.90,150.77 L1000.90,151.04 L1001.90,151.31 L1002.90,151.57 L1003.90,151.84 L1004.90,152.10 L1005.90,152.35 L1006.90,152.61 L1007.90,152.86 L1008.90,153.11 L1009.90,153.36 L1010.90,153.60 L1011.90,153.84 L1012.90,154.08 L1013.90,154.32 L1014.90,154.55 L1015.90,154.79 L1016.90,155.02 L1017.90,155.25 L1018.90,155.47 L1019.90,155.69 L1020.90,155.92 L1021.90,156.13 L1022.90,156.35 L1023.90,156.56 L1024.90,156.78 L1025.90,156.99 L1026.90,157.19 L1027.90,157.40 L1028.90,157.60 L1029.90,157.80 L1030.90,158.00 L1031.90,158.20 L1032.90,158.39 L1033.90,158.59 L1034.90,158.78 L1035.90,158.96 L1036.90,159.15 L1037.90,159.33 L1038.90,159.52 L1039.90,159.69 L1040.90,159.87 L1041.90,160.05 L1042.90,160.22 L1043.90,160.39 L1044.90,160.56 L1045.90,160.73 L1046.90,160.90 L1047.90,161.06 L1048.90,161.22 L1049.90,161.38 L1050.90,161.54 L1051.90,161.69 L1052.90,161.85 L1053.90,162.00 L1054.90,162.15 L1055.90,162.30 L1056.90,162.44 L1057.90,162.59 L1058.90,162.73 L1059.90,162.87 L1060.90,163.01 L1061.90,163.14 L1062.90,163.28 L1063.90,163.41 L1064.90,163.54 L1065.90,163.67 L1066.90,163.80 L1067.90,163.92 L1068.90,164.05 L1069.90,164.17 L1070.90,164.29 L1071.90,164.41 L1072.90,164.52 L1073.90,164.64 L1074.90,164.75 L1075.90,164.86 L1076.90,164.97 L1077.90,165.07 L1078.90,165.18 L1079.90,165.28 L1080.90,165.39 L1081.90,165.49 L1082.90,165.58 L1083.90,165.68 L1084.90,165.77 L1085.90,165.87 L1086.90,165.96 L1087.90,166.05 L1088.90,166.14 L1089.90,166.22 L1090.90,166.31 L1091.90,166.39 L1092.90,166.47 L1093.90,166.55 L1094.90,166.63 L1095.90,166.70 L1096.90,166.78 L1097.90,166.85 L1098.90,166.92 L1099.90,166.99 L1100.90,167.06 L1101.90,167.12 L1102.90,167.19 L1103.90,167.25 L1104.90,167.31 L1105.90,167.37 L1106.90,167.42 L1107.90,167.48 L1108.90,167.53 L1109.90,167.59 L1110.90,167.64 L1111.90,167.69 L1112.90,167.73 L1113.90,167.78 L1114.90,167.82 L1115.90,167.86 L1116.90,167.91 L1117.90,167.94 L1118.90,167.98 L1119.90,168.02 L1120.90,168.05 L1121.90,168.08 L1122.90,168.12 L1123.90,168.14 L1124.90,168.17 L1125.90,168.20 L1126.90,168.22 L1127.90,168.25 L1128.90,168.27 L1129.90,168.29 L1130.90,168.30 L1131.90,168.32 L1132.90,168.34 L1133.90,168.35 L1134.90,168.36 L1135.90,168.37 L1136.90,168.38 L1137.90,168.39 L1138.90,168.39 L1139.90,168.40 L1140.90,168.40 L1141.90,168.40 L1142.90,168.40 L1143.90,168.39 L1144.90,168.39 L1145.90,168.38 L1146.90,168.38 L1147.90,168.37 L1148.90,168.36 L1149.90,168.35 L1150.90,168.33 L1151.90,168.32 L1152.90,168.30 L1153.90,168.28 L1154.90,168.26 L1155.90,168.24 L1156.90,168.22 L1157.90,168.19 L1158.90,168.17 L1159.90,168.14 L1160.90,168.11 L1161.90,168.08 L1162.90,168.05 L1163.90,168.01 L1164.90,167.98 L1165.90,167.94 L1166.90,167.90 L1167.90,167.86 L1168.90,167.82 L1169.90,167.78 L1170.90,167.73 L1170.90,167.73" fill="none" stroke="#B40000" stroke-width="2.2"/>
<path d="M848.90,317.22 L849.90,319.87 L850.90,322.38 L851.90,324.77 L852.90,327.04 L853.90,329.20 L854.90,331.27 L855.90,333.25 L856.90,335.14 L857.90,336.95 L858.90,338.69 L859.90,340.36 L860.90,341.96 L861.90,343.51 L862.90,345.00 L863.90,346.44 L864.90,347.83 L865.90,349.18 L866.90,350.49 L867.90,351.75 L868.90,352.98 L869.90,354.18 L870.90,355.34 L871.90,356.47 L872.90,357.57 L873.90,358.65 L874.90,359.70 L875.90,360.73 L876.90,361.73 L877.90,362.71 L878.90,363.67 L879.90,364.61 L880.90,365.54 L881.90,366.44 L882.90,367.33 L883.90,368.20 L884.90,369.06 L885.90,369.90 L886.90,370.73 L887.90,371.55 L888.90,372.35 L889.90,373.14 L890.90,373.92 L891.90,374.68 L892.90,375.44 L893.90,376.18 L894.90,376.92 L895.90,377.64 L896.90,378.36 L897.90,379.06 L898.90,379.76 L899.90,380.44 L900.90,381.12 L901.90,381.79 L902.90,382.45 L903.90,383.11 L904.90,383.75 L905.90,384.39 L906.90,385.02 L907.90,385.64 L908.90,386.26 L909.90,386.87 L910.90,387.47 L911.90,388.07 L912.90,388.65 L913.90,389.24 L914.90,389.81 L915.90,390.38 L916.90,390.95 L917.90,391.50 L918.90,392.05 L919.90,392.60 L920.90,393.14 L921.90,393.67 L922.90,394.20 L923.90,394.73 L924.90,395.24 L925.90,395.76 L926.90,396.26 L927.90,396.77 L928.90,397.26 L929.90,397.76 L930.90,398.24 L931.90,398.72 L932.90,399.20 L933.90,399.67 L934.90,400.14 L935.90,400.61 L936.90,401.06 L937.90,401.52 L938.90,401.97 L939.90,402.41 L940.90,402.85 L941.90,403.29 L942.90,403.72 L943.90,404.15 L944.90,404.58 L945.90,405.00 L946.90,405.41 L947.90,405.82 L948.90,406.23 L949.90,406.63 L950.90,407.03 L951.90,407.43 L952.90,407.82 L953.90,408.21 L954.90,408.59 L955.90,408.98 L956.90,409.35 L957.90,409.73 L958.90,410.10 L959.90,410.46 L960.90,410.83 L961.90,411.18 L962.90,411.54 L963.90,411.89 L964.90,412.24 L965.90,412.59 L966.90,412.93 L967.90,413.27 L968.90,413.60 L969.90,413.94 L970.90,414.27 L971.90,414.59 L972.90,414.92 L973.90,415.24 L974.90,415.55 L975.90,415.87 L976.90,416.18 L977.90,416.48 L978.90,416.79 L979.90,417.09 L980.90,417.39 L981.90,417.68 L982.90,417.98 L983.90,418.27 L984.90,418.55 L985.90,418.84 L986.90,419.12 L987.90,419.40 L988.90,419.67 L989.90,419.94 L990.90,420.21 L991.90,420.48 L992.90,420.75 L993.90,421.01 L994.90,421.27 L995.90,421.53 L996.90,421.78 L997.90,422.03 L998.90,422.28 L999.90,422.53 L1000.90,422.77 L1001.90,423.01 L1002.90,423.25 L1003.90,423.49 L1004.90,423.72 L1005.90,423.95 L1006.90,424.18 L1007.90,424.41 L1008.90,424.63 L1009.90,424.85 L1010.90,425.07 L1011.90,425.29 L1012.90,425.50 L1013.90,425.71 L1014.90,425.92 L1015.90,426.13 L1016.90,426.34 L1017.90,426.54 L1018.90,426.74 L1019.90,426.94 L1020.90,427.13 L1021.90,427.33 L1022.90,427.52 L1023.90,427.71 L1024.90,427.89 L1025.90,428.08 L1026.90,428.26 L1027.90,428.44 L1028.90,428.62 L1029.90,428.80 L1030.90,428.97 L1031.90,429.14 L1032.90,429.31 L1033.90,429.48 L1034.90,429.64 L1035.90,429.81 L1036.90,429.97 L1037.90,430.13 L1038.90,430.29 L1039.90,430.44 L1040.90,430.59 L1041.90,430.74 L1042.90,430.89 L1043.90,431.04 L1044.90,431.18 L1045.90,431.33 L1046.90,431.47 L1047.90,431.61 L1048.90,431.74 L1049.90,431.88 L1050.90,432.01 L1051.90,432.14 L1052.90,432.27 L1053.90,432.40 L1054.90,432.52 L1055.90,432.65 L1056.90,432.77 L1057.90,432.89 L1058.90,433.00 L1059.90,433.12 L1060.90,433.23 L1061.90,433.34 L1062.90,433.45 L1063.90,433.56 L1064.90,433.67 L1065.90,433.77 L1066.90,433.87 L1067.90,433.97 L1068.90,434.07 L1069.90,434.17 L1070.90,434.26 L1071.90,434.36 L1072.90,434.45 L1073.90,434.54 L1074.90,434.62 L1075.90,434.71 L1076.90,434.79 L1077.90,434.88 L1078.90,434.96 L1079.90,435.03 L1080.90,435.11 L1081.90,435.19 L1082.90,435.26 L1083.90,435.33 L1084.90,435.40 L1085.90,435.47 L1086.90,435.53 L1087.90,435.60 L1088.90,435.66 L1089.90,435.72 L1090.90,435.78 L1091.90,435.84 L1092.90,435.89 L1093.90,435.94 L1094.90,436.00 L1095.90,436.05 L1096.90,436.09 L1097.90,436.14 L1098.90,436.19 L1099.90,436.23 L1100.90,436.27 L1101.90,436.31 L1102.90,436.35 L1103.90,436.38 L1104.90,436.42 L1105.90,436.45 L1106.90,436.48 L1107.90,436.51 L1108.90,436.54 L1109.90,436.57 L1110.90,436.59 L1111.90,436.61 L1112.90,436.63 L1113.90,436.65 L1114.90,436.67 L1115.90,436.69 L1116.90,436.70 L1117.90,436.71 L1118.90,436.73 L1119.90,436.74 L1120.90,436.74 L1121.90,436.75 L1122.90,436.75 L1123.90,436.76 L1124.90,436.76 L1125.90,436.76 L1126.90,436.75 L1127.90,436.75 L1128.90,436.74 L1129.90,436.74 L1130.90,436.73 L1131.90,436.72 L1132.90,436.71 L1133.90,436.69 L1134.90,436.68 L1135.90,436.66 L1136.90,436.64 L1137.90,436.62 L1138.90,436.60 L1139.90,436.58 L1140.90,436.55 L1141.90,436.52 L1142.90,436.50 L1143.90,436.47 L1144.90,436.43 L1145.90,436.40 L1146.90,436.37 L1147.90,436.33 L1148.90,436.29 L1149.90,436.25 L1150.90,436.21 L1151.90,436.17 L1152.90,436.12 L1153.90,436.08 L1154.90,436.03 L1155.90,435.98 L1156.90,435.93 L1157.90,435.88 L1158.90,435.82 L1159.90,435.77 L1160.90,435.71 L1161.90,435.65 L1162.90,435.59 L1163.90,435.53 L1164.90,435.47 L1165.90,435.40 L1166.90,435.33 L1167.90,435.27 L1168.90,435.20 L1169.90,435.13 L1170.90,435.05 L1171.90,434.98 L1172.90,434.90 L1173.00,434.89" fill="none" stroke="#B40000" stroke-width="2.2"/>
<line x1="848" y1="24.8" x2="848" y2="456.3" stroke="#000" stroke-width="1.8"/>
<line x1="1174.3" y1="27.4" x2="1174.3" y2="458.2" stroke="#000" stroke-width="1.8"/>
<line x1="817.3" y1="39.9" x2="1143.9" y2="40.1" stroke="#0070C0" stroke-width="2" stroke-dasharray="7.4 5.9"/>
<line x1="805" y1="213.8" x2="1220.5" y2="213.8" stroke="#B40000" stroke-width="2" stroke-dasharray="7 6.3"/>
<line x1="832.00" y1="49.70" x2="832.00" y2="205.80" stroke="#0070C0" stroke-width="2.20"/><path d="M832.00,43.20 L828.20,50.70 L835.80,50.70 Z" fill="#0070C0"/><path d="M832.00,212.30 L828.20,204.80 L835.80,204.80 Z" fill="#0070C0"/>
<line x1="1120.10" y1="44.10" x2="1120.10" y2="161.80" stroke="#0070C0" stroke-width="2.20"/><path d="M1120.10,37.60 L1116.30,45.10 L1123.90,45.10 Z" fill="#0070C0"/><path d="M1120.10,168.30 L1116.30,160.80 L1123.90,160.80 Z" fill="#0070C0"/>
<line x1="1120.90" y1="178.60" x2="1120.90" y2="427.40" stroke="#0070C0" stroke-width="2.20"/><path d="M1120.90,172.10 L1117.10,179.60 L1124.70,179.60 Z" fill="#0070C0"/><path d="M1120.90,433.90 L1117.10,426.40 L1124.70,426.40 Z" fill="#0070C0"/>
<g transform="translate(784.00,51.30) scale(0.8700,1.0000)"><text x="0" y="0" font-family='"Liberation Serif", serif' font-size="27.00" font-weight="bold" font-style="normal" fill="#000" text-anchor="start" >Pt</text></g>
<g transform="translate(1186.00,51.10) scale(0.8700,1.0000)"><text x="0" y="0" font-family='"Liberation Serif", serif' font-size="27.00" font-weight="bold" font-style="normal" fill="#000" text-anchor="start" >Ti</text></g>
<g transform="translate(785.50,151.50) skewX(-12) scale(0.8,1)"><text x="0" y="0" font-family='"Liberation Serif", serif' font-size="25.8" font-weight="bold" fill="#0070C0">Φ</text></g><g transform="translate(805.10,156.60) scale(0.8800,1.0000)"><text x="0" y="0" font-family='"Liberation Serif", serif' font-size="16.80" font-weight="bold" font-style="normal" fill="#0070C0" text-anchor="start" >B</text></g>
<g transform="translate(1124.00,109.60) skewX(-14) scale(0.86,1)"><text x="0" y="0" font-family='"Liberation Serif", serif' font-size="24" font-weight="bold" font-style="italic" fill="#0070C0">V</text></g><g transform="translate(1142.00,115.20)"><text x="0" y="0" font-family='"Liberation Serif", serif' font-size="14.80" font-weight="bold" font-style="normal" fill="#0070C0" text-anchor="start" >bi</text></g>
<g transform="translate(1185.00,197.70) scale(0.8600,1.0000)"><text x="0" y="0" font-family='"Liberation Serif", serif' font-size="26.40" font-weight="bold" font-style="normal" fill="#000" text-anchor="start" >E</text></g><g transform="translate(1200.50,202.70)"><text x="0" y="0" font-family='"Liberation Serif", serif' font-size="17.00" font-weight="bold" font-style="normal" fill="#000" text-anchor="start" >C</text></g>
<g transform="translate(1225.00,218.20) scale(0.8600,1.0000)"><text x="0" y="0" font-family='"Liberation Serif", serif' font-size="26.40" font-weight="bold" font-style="normal" fill="#000" text-anchor="start" >E</text></g><g transform="translate(1240.50,223.20)"><text x="0" y="0" font-family='"Liberation Serif", serif' font-size="17.00" font-weight="bold" font-style="normal" fill="#000" text-anchor="start" >f</text></g>
<g transform="translate(1131.00,297.00) scale(0.8600,1.0000)"><text x="0" y="0" font-family='"Liberation Serif", serif' font-size="26.40" font-weight="bold" font-style="normal" fill="#000" text-anchor="start" >E</text></g><g transform="translate(1146.50,302.00)"><text x="0" y="0" font-family='"Liberation Serif", serif' font-size="17.00" font-weight="bold" font-style="normal" fill="#000" text-anchor="start" >g</text></g>
<g transform="translate(1184.00,441.20) scale(0.8600,1.0000)"><text x="0" y="0" font-family='"Liberation Serif", serif' font-size="26.40" font-weight="bold" font-style="normal" fill="#000" text-anchor="start" >E</text></g><g transform="translate(1199.50,446.20)"><text x="0" y="0" font-family='"Liberation Serif", serif' font-size="17.00" font-weight="bold" font-style="normal" fill="#000" text-anchor="start" >v</text></g>
<g transform="translate(899.00,319.50)"><text x="0" y="0" font-family='"Liberation Serif", serif' font-size="23.80" font-weight="bold" font-style="normal" fill="#000" text-anchor="start" >Si:<tspan font-style="italic">β</tspan>-(Al<tspan font-size="15" dy="4.5" font-style="italic">x</tspan><tspan dy="-4.5">Ga</tspan><tspan font-size="15" dy="4.5">1-<tspan font-style="italic">x</tspan></tspan><tspan dy="-4.5">)</tspan><tspan font-size="15" dy="4.5">2</tspan><tspan dy="-4.5">O</tspan><tspan font-size="15" dy="4.5">3</tspan></text></g>
<g transform="translate(11.50,535.50)"><text x="0" y="0" font-family='"Liberation Serif", serif' font-size="44.00" font-weight="bold" font-style="normal" fill="#000" text-anchor="start" >(b)</text></g>
<rect x="180.40" y="562.20" width="429.90" height="346.10" fill="none" stroke="#000" stroke-width="1.2"/>
<line x1="174.40" y1="908.30" x2="180.40" y2="908.30" stroke="#000" stroke-width="1.2"/>
<g transform="translate(170.60,914.50) scale(0.9200,1.0000)"><text x="0" y="0" font-family='"Liberation Serif", serif' font-size="19.50" font-weight="bold" font-style="normal" fill="#000" text-anchor="end" >0</text></g>
<line x1="177.40" y1="881.68" x2="180.40" y2="881.68" stroke="#000" stroke-width="1.2"/>
<line x1="174.40" y1="855.05" x2="180.40" y2="855.05" stroke="#000" stroke-width="1.2"/>
<g transform="translate(170.60,861.25) scale(0.9200,1.0000)"><text x="0" y="0" font-family='"Liberation Serif", serif' font-size="19.50" font-weight="bold" font-style="normal" fill="#000" text-anchor="end" >100</text></g>
<line x1="177.40" y1="828.43" x2="180.40" y2="828.43" stroke="#000" stroke-width="1.2"/>
<line x1="174.40" y1="801.81" x2="180.40" y2="801.81" stroke="#000" stroke-width="1.2"/>
<g transform="translate(170.60,808.01) scale(0.9200,1.0000)"><text x="0" y="0" font-family='"Liberation Serif", serif' font-size="19.50" font-weight="bold" font-style="normal" fill="#000" text-anchor="end" >200</text></g>
<line x1="177.40" y1="775.18" x2="180.40" y2="775.18" stroke="#000" stroke-width="1.2"/>
<line x1="174.40" y1="748.56" x2="180.40" y2="748.56" stroke="#000" stroke-width="1.2"/>
<g transform="translate(170.60,754.76) scale(0.9200,1.0000)"><text x="0" y="0" font-family='"Liberation Serif", serif' font-size="19.50" font-weight="bold" font-style="normal" fill="#000" text-anchor="end" >300</text></g>
<line x1="177.40" y1="721.94" x2="180.40" y2="721.94" stroke="#000" stroke-width="1.2"/>
<line x1="174.40" y1="695.32" x2="180.40" y2="695.32" stroke="#000" stroke-width="1.2"/>
<g transform="translate(170.60,701.52) scale(0.9200,1.0000)"><text x="0" y="0" font-family='"Liberation Serif", serif' font-size="19.50" font-weight="bold" font-style="normal" fill="#000" text-anchor="end" >400</text></g>
<line x1="177.40" y1="668.69" x2="180.40" y2="668.69" stroke="#000" stroke-width="1.2"/>
<line x1="174.40" y1="642.07" x2="180.40" y2="642.07" stroke="#000" stroke-width="1.2"/>
<g transform="translate(170.60,648.27) scale(0.9200,1.0000)"><text x="0" y="0" font-family='"Liberation Serif", serif' font-size="19.50" font-weight="bold" font-style="normal" fill="#000" text-anchor="end" >500</text></g>
<line x1="177.40" y1="615.45" x2="180.40" y2="615.45" stroke="#000" stroke-width="1.2"/>
<line x1="174.40" y1="588.82" x2="180.40" y2="588.82" stroke="#000" stroke-width="1.2"/>
<g transform="translate(170.60,595.02) scale(0.9200,1.0000)"><text x="0" y="0" font-family='"Liberation Serif", serif' font-size="19.50" font-weight="bold" font-style="normal" fill="#000" text-anchor="end" >600</text></g>
<line x1="180.40" y1="908.30" x2="180.40" y2="914.30" stroke="#000" stroke-width="1.2"/>
<g transform="translate(181.40,937.90) scale(0.9300,1.0000)"><text x="0" y="0" font-family='"Liberation Serif", serif' font-size="19.50" font-weight="bold" font-style="normal" fill="#000" text-anchor="middle" >0.00</text></g>
<line x1="223.39" y1="908.30" x2="223.39" y2="911.80" stroke="#000" stroke-width="1.2"/>
<line x1="266.38" y1="908.30" x2="266.38" y2="914.30" stroke="#000" stroke-width="1.2"/>
<g transform="translate(267.38,937.90) scale(0.9300,1.0000)"><text x="0" y="0" font-family='"Liberation Serif", serif' font-size="19.50" font-weight="bold" font-style="normal" fill="#000" text-anchor="middle" >0.50</text></g>
<line x1="309.37" y1="908.30" x2="309.37" y2="911.80" stroke="#000" stroke-width="1.2"/>
<line x1="352.36" y1="908.30" x2="352.36" y2="914.30" stroke="#000" stroke-width="1.2"/>
<g transform="translate(353.36,937.90) scale(0.9300,1.0000)"><text x="0" y="0" font-family='"Liberation Serif", serif' font-size="19.50" font-weight="bold" font-style="normal" fill="#000" text-anchor="middle" >1.00</text></g>
<line x1="395.35" y1="908.30" x2="395.35" y2="911.80" stroke="#000" stroke-width="1.2"/>
<line x1="438.34" y1="908.30" x2="438.34" y2="914.30" stroke="#000" stroke-width="1.2"/>
<g transform="translate(439.34,937.90) scale(0.9300,1.0000)"><text x="0" y="0" font-family='"Liberation Serif", serif' font-size="19.50" font-weight="bold" font-style="normal" fill="#000" text-anchor="middle" >1.50</text></g>
<line x1="481.33" y1="908.30" x2="481.33" y2="911.80" stroke="#000" stroke-width="1.2"/>
<line x1="524.32" y1="908.30" x2="524.32" y2="914.30" stroke="#000" stroke-width="1.2"/>
<g transform="translate(525.32,937.90) scale(0.9300,1.0000)"><text x="0" y="0" font-family='"Liberation Serif", serif' font-size="19.50" font-weight="bold" font-style="normal" fill="#000" text-anchor="middle" >2.00</text></g>
<line x1="567.31" y1="908.30" x2="567.31" y2="911.80" stroke="#000" stroke-width="1.2"/>
<line x1="610.30" y1="908.30" x2="610.30" y2="914.30" stroke="#000" stroke-width="1.2"/>
<g transform="translate(611.30,937.90) scale(0.9300,1.0000)"><text x="0" y="0" font-family='"Liberation Serif", serif' font-size="19.50" font-weight="bold" font-style="normal" fill="#000" text-anchor="middle" >2.50</text></g>
<g transform="translate(122.70,725.30) rotate(-90)"><text x="0" y="0" font-family='"Liberation Serif", serif' font-size="18.60" font-weight="bold" font-style="normal" fill="#000" text-anchor="middle" >Current density (A/cm<tspan font-size="13" dy="-7.5">2</tspan><tspan dy="7.5">)</tspan></text></g>
<g transform="translate(395.70,962.70) scale(0.9500,1.0000)"><text x="0" y="0" font-family='"Liberation Serif", serif' font-size="19.50" font-weight="bold" font-style="normal" fill="#000" text-anchor="middle" >Voltage (V)</text></g>
<line x1="369.30" y1="908.00" x2="552.80" y2="561.80" stroke="#FF0000" stroke-width="2.4"/>
<path d="M180.40,908.00 L181.40,908.00 L182.40,908.00 L183.40,908.00 L184.40,908.00 L185.40,908.00 L186.40,908.00 L187.40,908.00 L188.40,908.00 L189.40,908.00 L190.40,908.00 L191.40,908.00 L192.40,908.00 L193.40,908.00 L194.40,908.00 L195.40,908.00 L196.40,908.00 L197.40,908.00 L198.40,908.00 L199.40,908.00 L200.40,908.00 L201.40,908.00 L202.40,908.00 L203.40,908.00 L204.40,908.00 L205.40,908.00 L206.40,908.00 L207.40,908.00 L208.40,908.00 L209.40,908.00 L210.40,908.00 L211.40,908.00 L212.40,908.00 L213.40,908.00 L214.40,908.00 L215.40,908.00 L216.40,908.00 L217.40,908.00 L218.40,908.00 L219.40,908.00 L220.40,908.00 L221.40,908.00 L222.40,908.00 L223.40,908.00 L224.40,908.00 L225.40,908.00 L226.40,908.00 L227.40,908.00 L228.40,908.00 L229.40,908.00 L230.40,908.00 L231.40,908.00 L232.40,908.00 L233.40,908.00 L234.40,908.00 L235.40,908.00 L236.40,908.00 L237.40,908.00 L238.40,908.00 L239.40,908.00 L240.40,908.00 L241.40,908.00 L242.40,908.00 L243.40,908.00 L244.40,908.00 L245.40,908.00 L246.40,908.00 L247.40,908.00 L248.40,908.00 L249.40,908.00 L250.40,908.00 L251.40,908.00 L252.40,908.00 L253.40,908.00 L254.40,908.00 L255.40,908.00 L256.40,908.00 L257.40,908.00 L258.40,908.00 L259.40,908.00 L260.40,908.00 L261.40,908.00 L262.40,908.00 L263.40,908.00 L264.40,908.00 L265.40,908.00 L266.40,908.00 L267.40,908.00 L268.40,908.00 L269.40,908.00 L270.40,908.00 L271.40,908.00 L272.40,908.00 L273.40,908.00 L274.40,908.00 L275.40,908.00 L276.40,907.99 L277.40,907.99 L278.40,907.99 L279.40,907.99 L280.40,907.99 L281.40,907.99 L282.40,907.99 L283.40,907.99 L284.40,907.99 L285.40,907.99 L286.40,907.99 L287.40,907.99 L288.40,907.98 L289.40,907.98 L290.40,907.98 L291.40,907.98 L292.40,907.98 L293.40,907.98 L294.40,907.97 L295.40,907.97 L296.40,907.97 L297.40,907.96 L298.40,907.96 L299.40,907.96 L300.40,907.95 L301.40,907.95 L302.40,907.94 L303.40,907.94 L304.40,907.93 L305.40,907.93 L306.40,907.92 L307.40,907.91 L308.40,907.90 L309.40,907.89 L310.40,907.88 L311.40,907.87 L312.40,907.86 L313.40,907.85 L314.40,907.83 L315.40,907.82 L316.40,907.80 L317.40,907.78 L318.40,907.76 L319.40,907.74 L320.40,907.72 L321.40,907.69 L322.40,907.66 L323.40,907.63 L324.40,907.59 L325.40,907.55 L326.40,907.51 L327.40,907.47 L328.40,907.42 L329.40,907.36 L330.40,907.30 L331.40,907.24 L332.40,907.16 L333.40,907.09 L334.40,907.00 L335.40,906.91 L336.40,906.81 L337.40,906.70 L338.40,906.58 L339.40,906.45 L340.40,906.31 L341.40,906.15 L342.40,905.99 L343.40,905.80 L344.40,905.61 L345.40,905.39 L346.40,905.16 L347.40,904.91 L348.40,904.64 L349.40,904.34 L350.40,904.03 L351.40,903.69 L352.40,903.32 L353.40,902.92 L354.40,902.50 L355.40,902.05 L356.40,901.56 L357.40,901.04 L358.40,900.48 L359.40,899.89 L360.40,899.26 L361.40,898.59 L362.40,897.89 L363.40,897.14 L364.40,896.35 L365.40,895.52 L366.40,894.65 L367.40,893.73 L368.40,892.77 L369.40,891.77 L370.40,890.72 L371.40,889.64 L372.40,888.51 L373.40,887.34 L374.40,886.13 L375.40,884.89 L376.40,883.60 L377.40,882.28 L378.40,880.92 L379.40,879.53 L380.40,878.11 L381.40,876.65 L382.40,875.17 L383.40,873.66 L384.40,872.12 L385.40,870.56 L386.40,868.97 L387.40,867.36 L388.40,865.74 L389.40,864.09 L390.40,862.42 L391.40,860.74 L392.40,859.04 L393.40,857.32 L394.40,855.60 L395.40,853.86 L396.40,852.11 L397.40,850.34 L398.40,848.57 L399.40,846.79 L400.40,845.00 L401.40,843.20 L402.40,841.40 L403.40,839.59 L404.40,837.77 L405.40,835.95 L406.40,834.12 L407.40,832.28 L408.40,830.45 L409.16,829.45 L410.31,827.45 L411.45,825.45 L412.60,823.45 L413.75,821.45 L414.89,819.45 L416.04,817.45 L417.19,815.45 L418.33,813.45 L419.48,811.45 L420.63,809.45 L421.77,807.45 L422.92,805.45 L424.07,803.45 L425.21,801.45 L426.36,799.45 L427.48,797.45 L428.61,795.45 L429.73,793.45 L430.86,791.45 L431.98,789.45 L433.11,787.45 L434.23,785.45 L435.36,783.45 L436.48,781.45 L437.61,779.45 L438.73,777.45 L439.86,775.45 L440.98,773.45 L442.11,771.45 L443.23,769.45 L444.36,767.45 L445.48,765.45 L446.61,763.45 L447.73,761.45 L448.84,759.45 L449.90,757.45 L450.96,755.45 L452.02,753.45 L453.08,751.45 L454.14,749.45 L455.20,747.45 L456.26,745.45 L457.32,743.45 L458.38,741.45 L459.44,739.45 L460.50,737.45 L461.56,735.45 L462.62,733.45 L463.68,731.45 L464.74,729.45 L465.80,727.45 L466.86,725.45 L467.92,723.45 L468.98,721.45 L470.03,719.45 L471.05,717.45 L472.07,715.45 L473.09,713.45 L474.11,711.45 L475.13,709.45 L476.15,707.45 L477.17,705.45 L478.19,703.45 L479.21,701.45 L480.23,699.45 L481.25,697.45 L482.27,695.45 L483.29,693.45 L484.31,691.45 L485.33,689.45 L486.35,687.45 L487.37,685.45 L488.39,683.45 L489.41,681.45 L490.43,679.45 L491.43,677.45 L492.44,675.45 L493.45,673.45 L494.45,671.45 L495.46,669.45 L496.47,667.45 L497.47,665.45 L498.48,663.45 L499.49,661.45 L500.49,659.45 L501.50,657.45 L502.51,655.45 L503.52,653.45 L504.52,651.45 L505.52,649.45 L506.49,647.45 L507.45,645.45 L508.42,643.45 L509.39,641.45 L510.36,639.45 L511.32,637.45 L512.29,635.45 L513.26,633.45 L514.23,631.45 L515.20,629.45 L516.16,627.45 L517.13,625.45 L518.08,623.45 L518.96,621.45 L519.85,619.45 L520.73,617.45 L521.62,615.45 L522.50,613.45 L523.39,611.45 L524.28,609.45 L525.16,607.45 L525.40,606.80 L601.10,606.80" fill="none" stroke="#0000FF" stroke-width="2.3" stroke-linejoin="round"/>
<line x1="369.30" y1="908.00" x2="552.80" y2="561.80" stroke="#FF0000" stroke-width="2.4"/>
<g transform="translate(344.00,617.20)"><text x="0" y="0" font-family='"Liberation Sans", sans-serif' font-size="18.00" font-weight="bold" font-style="normal" fill="#000" text-anchor="start" ><tspan font-style="italic">J</tspan><tspan font-size="12.5" dy="6.5">@2V</tspan><tspan dy="-6.5">=521 A/cm</tspan><tspan font-size="12" dy="-8">2</tspan></text></g>
<g transform="translate(259.50,766.10)"><text x="0" y="0" font-family='"Liberation Sans", sans-serif' font-size="18.00" font-weight="bold" font-style="normal" fill="#000" text-anchor="start" ><tspan font-style="italic">R</tspan><tspan font-size="12.5" dy="5.5">on</tspan><tspan dy="-5.5">=1.57 mΩ·cm</tspan><tspan font-size="12" dy="-8">2</tspan></text></g>
<g transform="translate(400.50,896.70)"><text x="0" y="0" font-family='"Liberation Sans", sans-serif' font-size="18.00" font-weight="bold" font-style="normal" fill="#000" text-anchor="start" ><tspan font-style="italic">V</tspan><tspan font-size="13" dy="5">bi</tspan><tspan dy="-5">=1.09 V</tspan></text></g>
<g transform="translate(673.50,535.50)"><text x="0" y="0" font-family='"Liberation Serif", serif' font-size="44.00" font-weight="bold" font-style="normal" fill="#000" text-anchor="start" >(c)</text></g>
<rect x="834.60" y="560.50" width="421.90" height="339.80" fill="none" stroke="#000" stroke-width="1.2"/>
<line x1="828.60" y1="900.30" x2="834.60" y2="900.30" stroke="#000" stroke-width="1.2"/>
<line x1="831.60" y1="891.00" x2="834.60" y2="891.00" stroke="#000" stroke-width="1.0"/>
<line x1="831.60" y1="885.56" x2="834.60" y2="885.56" stroke="#000" stroke-width="1.0"/>
<line x1="831.60" y1="881.70" x2="834.60" y2="881.70" stroke="#000" stroke-width="1.0"/>
<line x1="831.60" y1="878.71" x2="834.60" y2="878.71" stroke="#000" stroke-width="1.0"/>
<line x1="831.60" y1="876.26" x2="834.60" y2="876.26" stroke="#000" stroke-width="1.0"/>
<line x1="831.60" y1="874.19" x2="834.60" y2="874.19" stroke="#000" stroke-width="1.0"/>
<line x1="831.60" y1="872.40" x2="834.60" y2="872.40" stroke="#000" stroke-width="1.0"/>
<line x1="831.60" y1="870.82" x2="834.60" y2="870.82" stroke="#000" stroke-width="1.0"/>
<g transform="translate(823.50,908.80) scale(0.9300,1.0000)"><text x="0" y="0" font-family='"Liberation Serif", serif' font-size="23.90" font-weight="bold" font-style="normal" fill="#000" text-anchor="end" >10<tspan font-size="15.3" dy="-9">-8</tspan></text></g>
<line x1="828.60" y1="869.41" x2="834.60" y2="869.41" stroke="#000" stroke-width="1.2"/>
<line x1="831.60" y1="860.11" x2="834.60" y2="860.11" stroke="#000" stroke-width="1.0"/>
<line x1="831.60" y1="854.67" x2="834.60" y2="854.67" stroke="#000" stroke-width="1.0"/>
<line x1="831.60" y1="850.81" x2="834.60" y2="850.81" stroke="#000" stroke-width="1.0"/>
<line x1="831.60" y1="847.82" x2="834.60" y2="847.82" stroke="#000" stroke-width="1.0"/>
<line x1="831.60" y1="845.37" x2="834.60" y2="845.37" stroke="#000" stroke-width="1.0"/>
<line x1="831.60" y1="843.30" x2="834.60" y2="843.30" stroke="#000" stroke-width="1.0"/>
<line x1="831.60" y1="841.51" x2="834.60" y2="841.51" stroke="#000" stroke-width="1.0"/>
<line x1="831.60" y1="839.93" x2="834.60" y2="839.93" stroke="#000" stroke-width="1.0"/>
<g transform="translate(823.50,877.91) scale(0.9300,1.0000)"><text x="0" y="0" font-family='"Liberation Serif", serif' font-size="23.90" font-weight="bold" font-style="normal" fill="#000" text-anchor="end" >10<tspan font-size="15.3" dy="-9">-7</tspan></text></g>
<line x1="828.60" y1="838.52" x2="834.60" y2="838.52" stroke="#000" stroke-width="1.2"/>
<line x1="831.60" y1="829.22" x2="834.60" y2="829.22" stroke="#000" stroke-width="1.0"/>
<line x1="831.60" y1="823.78" x2="834.60" y2="823.78" stroke="#000" stroke-width="1.0"/>
<line x1="831.60" y1="819.92" x2="834.60" y2="819.92" stroke="#000" stroke-width="1.0"/>
<line x1="831.60" y1="816.93" x2="834.60" y2="816.93" stroke="#000" stroke-width="1.0"/>
<line x1="831.60" y1="814.48" x2="834.60" y2="814.48" stroke="#000" stroke-width="1.0"/>
<line x1="831.60" y1="812.41" x2="834.60" y2="812.41" stroke="#000" stroke-width="1.0"/>
<line x1="831.60" y1="810.62" x2="834.60" y2="810.62" stroke="#000" stroke-width="1.0"/>
<line x1="831.60" y1="809.04" x2="834.60" y2="809.04" stroke="#000" stroke-width="1.0"/>
<g transform="translate(823.50,847.02) scale(0.9300,1.0000)"><text x="0" y="0" font-family='"Liberation Serif", serif' font-size="23.90" font-weight="bold" font-style="normal" fill="#000" text-anchor="end" >10<tspan font-size="15.3" dy="-9">-6</tspan></text></g>
<line x1="828.60" y1="807.63" x2="834.60" y2="807.63" stroke="#000" stroke-width="1.2"/>
<line x1="831.60" y1="798.33" x2="834.60" y2="798.33" stroke="#000" stroke-width="1.0"/>
<line x1="831.60" y1="792.89" x2="834.60" y2="792.89" stroke="#000" stroke-width="1.0"/>
<line x1="831.60" y1="789.03" x2="834.60" y2="789.03" stroke="#000" stroke-width="1.0"/>
<line x1="831.60" y1="786.04" x2="834.60" y2="786.04" stroke="#000" stroke-width="1.0"/>
<line x1="831.60" y1="783.59" x2="834.60" y2="783.59" stroke="#000" stroke-width="1.0"/>
<line x1="831.60" y1="781.52" x2="834.60" y2="781.52" stroke="#000" stroke-width="1.0"/>
<line x1="831.60" y1="779.73" x2="834.60" y2="779.73" stroke="#000" stroke-width="1.0"/>
<line x1="831.60" y1="778.15" x2="834.60" y2="778.15" stroke="#000" stroke-width="1.0"/>
<g transform="translate(823.50,816.13) scale(0.9300,1.0000)"><text x="0" y="0" font-family='"Liberation Serif", serif' font-size="23.90" font-weight="bold" font-style="normal" fill="#000" text-anchor="end" >10<tspan font-size="15.3" dy="-9">-5</tspan></text></g>
<line x1="828.60" y1="776.74" x2="834.60" y2="776.74" stroke="#000" stroke-width="1.2"/>
<line x1="831.60" y1="767.44" x2="834.60" y2="767.44" stroke="#000" stroke-width="1.0"/>
<line x1="831.60" y1="762.00" x2="834.60" y2="762.00" stroke="#000" stroke-width="1.0"/>
<line x1="831.60" y1="758.14" x2="834.60" y2="758.14" stroke="#000" stroke-width="1.0"/>
<line x1="831.60" y1="755.14" x2="834.60" y2="755.14" stroke="#000" stroke-width="1.0"/>
<line x1="831.60" y1="752.70" x2="834.60" y2="752.70" stroke="#000" stroke-width="1.0"/>
<line x1="831.60" y1="750.63" x2="834.60" y2="750.63" stroke="#000" stroke-width="1.0"/>
<line x1="831.60" y1="748.84" x2="834.60" y2="748.84" stroke="#000" stroke-width="1.0"/>
<line x1="831.60" y1="747.26" x2="834.60" y2="747.26" stroke="#000" stroke-width="1.0"/>
<g transform="translate(823.50,785.24) scale(0.9300,1.0000)"><text x="0" y="0" font-family='"Liberation Serif", serif' font-size="23.90" font-weight="bold" font-style="normal" fill="#000" text-anchor="end" >10<tspan font-size="15.3" dy="-9">-4</tspan></text></g>
<line x1="828.60" y1="745.85" x2="834.60" y2="745.85" stroke="#000" stroke-width="1.2"/>
<line x1="831.60" y1="736.55" x2="834.60" y2="736.55" stroke="#000" stroke-width="1.0"/>
<line x1="831.60" y1="731.11" x2="834.60" y2="731.11" stroke="#000" stroke-width="1.0"/>
<line x1="831.60" y1="727.25" x2="834.60" y2="727.25" stroke="#000" stroke-width="1.0"/>
<line x1="831.60" y1="724.25" x2="834.60" y2="724.25" stroke="#000" stroke-width="1.0"/>
<line x1="831.60" y1="721.81" x2="834.60" y2="721.81" stroke="#000" stroke-width="1.0"/>
<line x1="831.60" y1="719.74" x2="834.60" y2="719.74" stroke="#000" stroke-width="1.0"/>
<line x1="831.60" y1="717.95" x2="834.60" y2="717.95" stroke="#000" stroke-width="1.0"/>
<line x1="831.60" y1="716.37" x2="834.60" y2="716.37" stroke="#000" stroke-width="1.0"/>
<g transform="translate(823.50,754.35) scale(0.9300,1.0000)"><text x="0" y="0" font-family='"Liberation Serif", serif' font-size="23.90" font-weight="bold" font-style="normal" fill="#000" text-anchor="end" >10<tspan font-size="15.3" dy="-9">-3</tspan></text></g>
<line x1="828.60" y1="714.95" x2="834.60" y2="714.95" stroke="#000" stroke-width="1.2"/>
<line x1="831.60" y1="705.66" x2="834.60" y2="705.66" stroke="#000" stroke-width="1.0"/>
<line x1="831.60" y1="700.22" x2="834.60" y2="700.22" stroke="#000" stroke-width="1.0"/>
<line x1="831.60" y1="696.36" x2="834.60" y2="696.36" stroke="#000" stroke-width="1.0"/>
<line x1="831.60" y1="693.36" x2="834.60" y2="693.36" stroke="#000" stroke-width="1.0"/>
<line x1="831.60" y1="690.92" x2="834.60" y2="690.92" stroke="#000" stroke-width="1.0"/>
<line x1="831.60" y1="688.85" x2="834.60" y2="688.85" stroke="#000" stroke-width="1.0"/>
<line x1="831.60" y1="687.06" x2="834.60" y2="687.06" stroke="#000" stroke-width="1.0"/>
<line x1="831.60" y1="685.48" x2="834.60" y2="685.48" stroke="#000" stroke-width="1.0"/>
<g transform="translate(823.50,723.45) scale(0.9300,1.0000)"><text x="0" y="0" font-family='"Liberation Serif", serif' font-size="23.90" font-weight="bold" font-style="normal" fill="#000" text-anchor="end" >10<tspan font-size="15.3" dy="-9">-2</tspan></text></g>
<line x1="828.60" y1="684.06" x2="834.60" y2="684.06" stroke="#000" stroke-width="1.2"/>
<line x1="831.60" y1="674.76" x2="834.60" y2="674.76" stroke="#000" stroke-width="1.0"/>
<line x1="831.60" y1="669.32" x2="834.60" y2="669.32" stroke="#000" stroke-width="1.0"/>
<line x1="831.60" y1="665.47" x2="834.60" y2="665.47" stroke="#000" stroke-width="1.0"/>
<line x1="831.60" y1="662.47" x2="834.60" y2="662.47" stroke="#000" stroke-width="1.0"/>
<line x1="831.60" y1="660.03" x2="834.60" y2="660.03" stroke="#000" stroke-width="1.0"/>
<line x1="831.60" y1="657.96" x2="834.60" y2="657.96" stroke="#000" stroke-width="1.0"/>
<line x1="831.60" y1="656.17" x2="834.60" y2="656.17" stroke="#000" stroke-width="1.0"/>
<line x1="831.60" y1="654.59" x2="834.60" y2="654.59" stroke="#000" stroke-width="1.0"/>
<g transform="translate(823.50,692.56) scale(0.9300,1.0000)"><text x="0" y="0" font-family='"Liberation Serif", serif' font-size="23.90" font-weight="bold" font-style="normal" fill="#000" text-anchor="end" >10<tspan font-size="15.3" dy="-9">-1</tspan></text></g>
<line x1="828.60" y1="653.17" x2="834.60" y2="653.17" stroke="#000" stroke-width="1.2"/>
<line x1="831.60" y1="643.87" x2="834.60" y2="643.87" stroke="#000" stroke-width="1.0"/>
<line x1="831.60" y1="638.43" x2="834.60" y2="638.43" stroke="#000" stroke-width="1.0"/>
<line x1="831.60" y1="634.57" x2="834.60" y2="634.57" stroke="#000" stroke-width="1.0"/>
<line x1="831.60" y1="631.58" x2="834.60" y2="631.58" stroke="#000" stroke-width="1.0"/>
<line x1="831.60" y1="629.13" x2="834.60" y2="629.13" stroke="#000" stroke-width="1.0"/>
<line x1="831.60" y1="627.07" x2="834.60" y2="627.07" stroke="#000" stroke-width="1.0"/>
<line x1="831.60" y1="625.28" x2="834.60" y2="625.28" stroke="#000" stroke-width="1.0"/>
<line x1="831.60" y1="623.70" x2="834.60" y2="623.70" stroke="#000" stroke-width="1.0"/>
<g transform="translate(823.50,661.67) scale(0.9300,1.0000)"><text x="0" y="0" font-family='"Liberation Serif", serif' font-size="23.90" font-weight="bold" font-style="normal" fill="#000" text-anchor="end" >10<tspan font-size="15.3" dy="-9">0</tspan></text></g>
<line x1="828.60" y1="622.28" x2="834.60" y2="622.28" stroke="#000" stroke-width="1.2"/>
<line x1="831.60" y1="612.98" x2="834.60" y2="612.98" stroke="#000" stroke-width="1.0"/>
<line x1="831.60" y1="607.54" x2="834.60" y2="607.54" stroke="#000" stroke-width="1.0"/>
<line x1="831.60" y1="603.68" x2="834.60" y2="603.68" stroke="#000" stroke-width="1.0"/>
<line x1="831.60" y1="600.69" x2="834.60" y2="600.69" stroke="#000" stroke-width="1.0"/>
<line x1="831.60" y1="598.24" x2="834.60" y2="598.24" stroke="#000" stroke-width="1.0"/>
<line x1="831.60" y1="596.18" x2="834.60" y2="596.18" stroke="#000" stroke-width="1.0"/>
<line x1="831.60" y1="594.38" x2="834.60" y2="594.38" stroke="#000" stroke-width="1.0"/>
<line x1="831.60" y1="592.80" x2="834.60" y2="592.80" stroke="#000" stroke-width="1.0"/>
<g transform="translate(823.50,630.78) scale(0.9300,1.0000)"><text x="0" y="0" font-family='"Liberation Serif", serif' font-size="23.90" font-weight="bold" font-style="normal" fill="#000" text-anchor="end" >10<tspan font-size="15.3" dy="-9">1</tspan></text></g>
<line x1="828.60" y1="591.39" x2="834.60" y2="591.39" stroke="#000" stroke-width="1.2"/>
<line x1="831.60" y1="582.09" x2="834.60" y2="582.09" stroke="#000" stroke-width="1.0"/>
<line x1="831.60" y1="576.65" x2="834.60" y2="576.65" stroke="#000" stroke-width="1.0"/>
<line x1="831.60" y1="572.79" x2="834.60" y2="572.79" stroke="#000" stroke-width="1.0"/>
<line x1="831.60" y1="569.80" x2="834.60" y2="569.80" stroke="#000" stroke-width="1.0"/>
<line x1="831.60" y1="567.35" x2="834.60" y2="567.35" stroke="#000" stroke-width="1.0"/>
<line x1="831.60" y1="565.29" x2="834.60" y2="565.29" stroke="#000" stroke-width="1.0"/>
<line x1="831.60" y1="563.49" x2="834.60" y2="563.49" stroke="#000" stroke-width="1.0"/>
<line x1="831.60" y1="561.91" x2="834.60" y2="561.91" stroke="#000" stroke-width="1.0"/>
<g transform="translate(823.50,599.89) scale(0.9300,1.0000)"><text x="0" y="0" font-family='"Liberation Serif", serif' font-size="23.90" font-weight="bold" font-style="normal" fill="#000" text-anchor="end" >10<tspan font-size="15.3" dy="-9">2</tspan></text></g>
<line x1="828.60" y1="560.50" x2="834.60" y2="560.50" stroke="#000" stroke-width="1.2"/>
<g transform="translate(823.50,569.00) scale(0.9300,1.0000)"><text x="0" y="0" font-family='"Liberation Serif", serif' font-size="23.90" font-weight="bold" font-style="normal" fill="#000" text-anchor="end" >10<tspan font-size="15.3" dy="-9">3</tspan></text></g>
<line x1="834.60" y1="900.30" x2="834.60" y2="906.30" stroke="#000" stroke-width="1.2"/>
<g transform="translate(834.90,928.90)"><text x="0" y="0" font-family='"Liberation Serif", serif' font-size="21.40" font-weight="bold" font-style="normal" fill="#000" text-anchor="middle" >0.0</text></g>
<line x1="876.79" y1="900.30" x2="876.79" y2="903.80" stroke="#000" stroke-width="1.2"/>
<line x1="918.98" y1="900.30" x2="918.98" y2="906.30" stroke="#000" stroke-width="1.2"/>
<g transform="translate(919.28,928.90)"><text x="0" y="0" font-family='"Liberation Serif", serif' font-size="21.40" font-weight="bold" font-style="normal" fill="#000" text-anchor="middle" >0.5</text></g>
<line x1="961.17" y1="900.30" x2="961.17" y2="903.80" stroke="#000" stroke-width="1.2"/>
<line x1="1003.36" y1="900.30" x2="1003.36" y2="906.30" stroke="#000" stroke-width="1.2"/>
<g transform="translate(1003.66,928.90)"><text x="0" y="0" font-family='"Liberation Serif", serif' font-size="21.40" font-weight="bold" font-style="normal" fill="#000" text-anchor="middle" >1.0</text></g>
<line x1="1045.55" y1="900.30" x2="1045.55" y2="903.80" stroke="#000" stroke-width="1.2"/>
<line x1="1087.74" y1="900.30" x2="1087.74" y2="906.30" stroke="#000" stroke-width="1.2"/>
<g transform="translate(1088.04,928.90)"><text x="0" y="0" font-family='"Liberation Serif", serif' font-size="21.40" font-weight="bold" font-style="normal" fill="#000" text-anchor="middle" >1.5</text></g>
<line x1="1129.93" y1="900.30" x2="1129.93" y2="903.80" stroke="#000" stroke-width="1.2"/>
<line x1="1172.12" y1="900.30" x2="1172.12" y2="906.30" stroke="#000" stroke-width="1.2"/>
<g transform="translate(1172.42,928.90)"><text x="0" y="0" font-family='"Liberation Serif", serif' font-size="21.40" font-weight="bold" font-style="normal" fill="#000" text-anchor="middle" >2.0</text></g>
<line x1="1214.31" y1="900.30" x2="1214.31" y2="903.80" stroke="#000" stroke-width="1.2"/>
<line x1="1256.50" y1="900.30" x2="1256.50" y2="906.30" stroke="#000" stroke-width="1.2"/>
<g transform="translate(1256.80,928.90)"><text x="0" y="0" font-family='"Liberation Serif", serif' font-size="21.40" font-weight="bold" font-style="normal" fill="#000" text-anchor="middle" >2.5</text></g>
<g transform="translate(767.20,730.20) rotate(-90)"><text x="0" y="0" font-family='"Liberation Serif", serif' font-size="22.60" font-weight="bold" font-style="normal" fill="#000" text-anchor="middle" >Current density (A/cm<tspan font-size="15" dy="-9">2</tspan><tspan dy="9">)</tspan></text></g>
<g transform="translate(1045.70,970.70)"><text x="0" y="0" font-family='"Liberation Serif", serif' font-size="23.00" font-weight="bold" font-style="normal" fill="#000" text-anchor="middle" >Voltage (V)</text></g>
<path d="M835.00,900.00 L835.30,894.85 L835.36,891.15 L835.30,885.00 L835.57,880.04 L835.67,877.13 L836.10,873.20 L836.75,872.61 L836.66,872.09 L837.40,872.30 L837.63,872.62 L838.57,872.03 L838.70,873.60 L839.15,875.75 L839.00,880.18 L839.10,882.00 L839.28,888.27 L839.55,893.26 L839.60,899.00 L839.73,892.69 L839.85,886.68 L840.00,881.00 L840.72,880.42 L841.12,880.20 L841.60,880.60 L841.86,881.28 L842.24,881.10 L842.70,881.50 L842.77,885.54 L842.74,888.21 L843.10,890.70 L843.35,893.66 L843.72,895.76 L844.00,898.60 L844.15,897.64 L844.88,896.14 L845.30,894.20 L845.86,893.43 L846.03,895.02 L846.60,895.10 L847.36,896.90 L847.71,896.50 L847.90,897.30 L847.88,894.41 L848.34,893.01 L848.60,890.00 L848.71,884.02 L849.21,878.32 L849.70,873.20 L850.07,872.48 L850.76,872.71 L851.00,871.40 L851.27,872.93 L851.87,873.55 L851.90,874.00 L852.51,876.26 L852.76,880.20 L852.80,884.10 L853.14,889.45 L852.82,894.15 L853.20,898.60 L853.53,893.65 L854.02,887.44 L854.50,881.50 L855.02,881.69 L854.76,880.44 L855.40,880.20 L855.39,881.60 L856.08,883.59 L856.30,884.10 L856.27,887.12 L856.88,890.55 L857.00,895.10 L857.39,894.31 L857.86,895.96 L858.00,895.10 L858.46,895.51 L859.20,893.96 L859.30,894.20 L860.03,894.62 L860.02,892.93 L860.70,892.50 L861.31,891.10 L861.55,892.04 L861.80,890.70 L861.80,886.02 L862.11,884.31 L862.50,880.00 L862.42,877.10 L862.73,874.03 L863.30,872.30 L863.75,872.47 L864.12,870.82 L864.60,871.40 L865.03,872.76 L865.68,871.38 L865.70,872.30 L866.30,875.82 L866.40,877.95 L866.80,879.80 L867.18,880.83 L867.07,879.52 L867.70,880.20 L867.73,880.89 L867.97,880.01 L868.60,879.30 L869.07,880.00 L869.51,881.15 L870.30,882.00 L870.61,882.84 L870.93,881.80 L871.60,882.80 L871.68,885.50 L872.23,890.39 L872.10,893.00 L872.31,894.03 L872.67,895.80 L873.00,898.00 L873.80,896.38 L874.11,895.56 L874.50,894.00 L874.53,895.25 L875.48,895.58 L875.50,896.00 L875.85,894.51 L876.08,891.15 L876.20,890.00 L876.75,886.32 L876.73,881.90 L876.90,879.50 L877.86,876.89 L878.55,872.88 L879.10,870.70 L879.32,871.26 L879.61,872.32 L880.30,871.70 L880.59,874.98 L881.10,880.93 L881.30,884.40 L881.29,889.99 L881.39,894.99 L881.80,899.10 L882.05,892.27 L882.69,884.79 L883.00,878.50 L883.34,880.77 L884.03,880.21 L884.20,882.50 L884.23,888.64 L884.56,893.46 L884.70,899.10 L884.89,897.94 L885.58,895.38 L886.20,895.20 L887.04,894.85 L887.87,892.21 L888.60,891.30 L888.66,890.86 L889.43,892.26 L889.60,893.20 L890.20,888.55 L890.54,885.08 L890.60,880.50 L891.03,876.29 L892.39,873.07 L892.80,869.70 L893.06,870.99 L893.37,871.03 L894.00,870.70 L894.66,873.71 L894.35,877.60 L895.00,879.50 L895.33,884.79 L895.05,889.02 L895.50,895.20 L895.76,887.59 L896.18,883.21 L897.00,875.60 L897.31,876.32 L897.40,879.50 L897.90,880.50 L898.38,881.28 L899.25,883.35 L899.40,886.40 L899.79,883.54 L900.36,879.06 L900.50,875.00 L901.03,872.82 L901.36,869.39 L901.40,865.80 L901.66,865.77 L902.20,866.60 L902.60,865.80 L902.95,874.00 L903.26,882.07 L903.30,891.30 L903.36,882.61 L904.27,874.86 L904.30,867.30 L904.88,866.19 L905.64,866.22 L906.00,867.30 L905.76,878.32 L905.97,888.12 L906.30,899.10 L906.52,889.78 L906.94,878.76 L907.00,870.00 L907.69,868.51 L907.83,868.15 L908.20,868.00" fill="none" stroke="#0000FF" stroke-width="2.4" stroke-linejoin="round"/>
<path d="M835.45,900.30 L835.27,893.44 L835.75,885.90 L836.31,878.82 L836.55,874.10 L837.02,874.57 L837.85,873.20 L838.26,874.55 L839.15,874.50 L839.49,880.09 L839.55,882.90 L839.62,890.34 L840.05,899.90 L840.18,890.47 L840.45,881.90 L841.09,880.21 L842.05,881.50 L842.44,881.80 L843.15,882.40 L843.13,887.41 L843.55,891.60 L843.85,895.46 L844.45,899.50 L844.99,897.94 L845.75,895.10 L846.30,897.02 L847.05,896.00 L847.70,897.74 L848.35,898.20 L848.85,893.87 L849.05,890.90 L849.63,881.72 L850.15,874.10 L851.08,874.12 L851.45,872.30 L851.80,873.23 L852.35,874.90 L852.53,881.12 L853.25,885.00 L853.26,891.80 L853.65,899.50 L854.51,892.30 L854.95,882.40 L855.25,880.83 L855.85,881.10 L856.34,883.52 L856.75,885.00 L857.20,891.76 L857.45,896.00 L858.26,897.27 L858.45,896.00 L858.78,896.80 L859.75,895.10 L860.32,894.13 L861.15,893.40 L861.77,892.06 L862.25,891.60 L862.88,887.22 L862.95,880.90 L863.17,876.67 L863.75,873.20 L864.44,871.92 L865.05,872.30 L865.91,873.80 L866.15,873.20 L866.49,876.69 L867.25,880.70 L867.62,880.15 L868.15,881.10 L868.39,881.74 L869.05,880.20 L869.84,882.15 L870.75,882.90 L871.42,882.90 L872.05,883.70 L872.64,889.65 L872.55,893.90 L872.74,896.41 L873.45,898.90 L873.91,896.59 L874.95,894.90 L875.26,896.80 L875.95,896.90 L876.44,892.64 L876.65,890.90 L876.67,884.44 L877.35,880.40 L878.77,877.18 L879.55,871.60 L879.98,873.48 L880.75,872.60 L881.16,878.85 L881.75,885.30 L882.06,893.33 L882.25,900.00 L883.07,888.54 L883.45,879.40 L884.39,880.35 L884.65,883.40 L884.99,891.21 L885.15,900.00 L885.89,897.99 L886.65,896.10 L887.51,895.26 L889.05,892.20 L889.47,893.12 L890.05,894.10 L890.23,887.20 L891.05,881.40 L892.47,877.25 L893.25,870.60 L894.15,872.19 L894.45,871.60 L894.68,876.32 L895.45,880.40 L895.36,889.69 L895.95,896.10 L896.73,886.65 L897.45,876.50 L898.20,878.85 L898.35,881.40 L898.91,883.58 L899.85,887.30 L900.21,880.19 L900.95,875.90 L901.57,870.63 L901.85,866.70 L902.59,867.16 L903.05,866.70 L903.10,878.49 L903.75,892.20 L904.53,878.93 L904.75,868.20 L905.26,867.11 L906.45,868.20 L906.46,883.76 L906.75,900.00 L907.06,884.32 L907.45,870.90 L907.70,868.48 L908.65,868.90" fill="none" stroke="#0000FF" stroke-width="1.6" stroke-linejoin="round"/>
<path d="M908.20,868.00 C908.78,866.83 910.57,863.17 911.70,861.00 C912.83,858.83 913.85,856.67 915.00,855.00 C916.15,853.33 917.85,852.50 918.60,851.00 C919.35,849.50 917.68,851.17 919.50,846.00 C921.32,840.83 925.09,831.00 929.54,820.00 C934.00,809.00 940.66,793.33 946.22,780.00 C951.78,766.67 957.33,753.33 962.89,740.00 C968.45,726.67 974.01,713.33 979.56,700.00 C985.12,686.67 993.46,666.67 996.24,660.00 L999.98,651.28 L1000.27,650.46 L1000.56,649.64 L1000.86,648.83 L1001.17,648.01 L1001.48,647.20 L1001.80,646.38 L1002.12,645.57 L1002.44,644.76 L1002.77,643.95 L1003.11,643.15 L1003.45,642.34 L1003.80,641.54 L1004.16,640.74 L1004.52,639.95 L1004.88,639.15 L1005.25,638.36 L1005.63,637.57 L1006.01,636.78 L1006.39,636.00 L1006.79,635.22 L1007.18,634.44 L1007.59,633.67 L1008.00,632.89 L1008.41,632.13 L1008.83,631.36 L1009.26,630.60 L1009.69,629.84 L1010.13,629.09 L1010.57,628.33 L1011.02,627.59 L1011.48,626.85 L1011.94,626.11 L1012.40,625.37 L1012.88,624.64 L1013.35,623.91 L1013.84,623.19 L1014.33,622.47 L1014.82,621.76 L1015.32,621.05 L1015.83,620.35 L1016.35,619.65 L1016.87,618.96 L1017.39,618.27 L1017.92,617.59 L1018.46,616.91 L1019.00,616.24 L1019.55,615.57 L1020.10,614.91 L1020.66,614.25 L1021.23,613.60 L1021.80,612.96 L1022.38,612.32 L1022.96,611.68 L1023.55,611.06 L1024.14,610.44 L1024.74,609.82 L1025.34,609.22 L1025.95,608.61 L1026.57,608.02 L1027.19,607.43 L1027.82,606.85 L1028.45,606.28 L1029.08,605.71 L1029.72,605.15 L1030.37,604.60 L1031.02,604.05 L1031.68,603.51 L1032.34,602.98 L1033.01,602.46 L1033.68,601.94 L1034.36,601.43 L1035.04,600.93 L1035.73,600.44 L1036.42,599.96 L1037.12,599.48 L1037.82,599.01 L1038.53,598.55 L1039.24,598.10 L1039.95,597.65 L1040.67,597.21 L1041.40,596.78 L1042.13,596.36 L1042.86,595.94 L1043.60,595.53 L1044.34,595.13 L1045.09,594.74 L1045.84,594.35 L1046.59,593.97 L1047.35,593.59 L1048.11,593.22 L1048.87,592.86 L1049.64,592.50 L1050.41,592.15 L1051.18,591.81 L1051.96,591.47 L1052.74,591.13 L1053.53,590.81 L1054.31,590.48 L1055.10,590.17 L1055.90,589.86 L1056.69,589.55 L1057.49,589.25 L1058.29,588.95 L1059.09,588.66 L1059.90,588.37 L1060.70,588.09 L1061.51,587.81 L1062.33,587.54 L1063.14,587.27 L1063.96,587.00 L1064.77,586.74 L1065.59,586.49 L1066.42,586.23 L1067.24,585.98 L1068.06,585.74 L1068.89,585.49 L1069.72,585.25 L1070.55,585.02 L1071.38,584.78 L1072.21,584.55 L1073.04,584.33 L1073.87,584.10 L1074.71,583.88 L1075.55,583.66 L1076.38,583.45 L1077.22,583.24 L1078.06,583.03 L1078.90,582.82 L1079.74,582.62 L1080.59,582.42 L1081.43,582.22 L1082.28,582.03 L1083.12,581.83 L1083.97,581.64 L1084.82,581.46 L1085.67,581.27 L1086.52,581.09 L1087.37,580.91 L1088.22,580.73 L1089.07,580.56 L1089.92,580.38 L1090.78,580.21 L1091.63,580.05 L1092.49,579.88 L1093.34,579.72 L1094.20,579.56 L1095.06,579.40 L1095.92,579.24 L1096.78,579.08 L1097.64,578.93 L1098.50,578.78 L1099.36,578.63 L1100.22,578.48 L1101.08,578.34 L1101.94,578.19 L1102.80,578.05 L1103.67,577.91 L1104.53,577.77 L1105.40,577.63 L1106.26,577.50 L1107.12,577.36 L1107.99,577.23 L1108.86,577.10 L1109.72,576.97 L1110.59,576.84 L1111.45,576.72 L1112.32,576.59 L1113.19,576.47 L1114.05,576.34 L1114.92,576.22 L1115.79,576.10 L1116.66,575.98 L1117.52,575.86 L1118.39,575.75 L1119.26,575.63 L1120.13,575.52 L1121.00,575.40 L1121.86,575.29 L1122.73,575.18 L1123.60,575.06 L1124.47,574.95 L1125.34,574.84 L1126.20,574.73 L1127.07,574.63 L1127.94,574.52 L1128.80,574.41 L1129.67,574.30 L1130.54,574.20 L1131.41,574.09 L1132.27,573.99 L1133.14,573.88 L1134.00,573.78 L1134.87,573.67 L1135.73,573.57 L1136.60,573.46 L1137.46,573.36 L1138.33,573.26 L1139.19,573.15 L1140.05,573.05 L1140.92,572.94 L1141.78,572.84 L1142.64,572.74 L1143.50,572.63 L1144.36,572.53 L1145.22,572.43 L1146.08,572.32 L1146.94,572.22 L1147.80,572.11 L1148.65,572.01 L1149.51,571.90 L1150.37,571.80 L1151.22,571.69 L1152.08,571.59 L1152.93,571.48 L1153.78,571.37 L1154.63,571.26 L1155.48,571.16 L1156.33,571.05 L1157.18,570.94 L1158.03,570.83 L1158.88,570.71 L1159.73,570.60 L1160.57,570.49 L1161.42,570.38 L1162.26,570.26 L1163.10,570.14 L1163.94,570.03 L1164.78,569.91 L1165.62,569.79 L1166.46,569.67 L1167.30,569.55 L1168.13,569.43 L1168.97,569.30 L1169.80,569.18 L1170.63,569.05 L1171.47,568.92 L1172.30,568.79 L1173.12,568.66 L1173.95,568.53 L1174.78,568.40 L1175.60,568.26 L1176.42,568.13 L1177.24,567.99 L1178.06,567.85 L1178.88,567.71 L1179.70,567.56 L1180.52,567.42 L1181.60,567.60 L1256.5,567.6" fill="none" stroke="#0000FF" stroke-width="1.9" stroke-linejoin="round"/>
<line x1="896.20" y1="898.80" x2="1037.00" y2="561.00" stroke="#FF0000" stroke-width="2.5"/>
<g transform="translate(975.00,796.10)"><text x="0" y="0" font-family='"Liberation Sans", sans-serif' font-size="22.00" font-weight="bold" font-style="normal" fill="#000" text-anchor="start" ><tspan font-style="italic">n</tspan>=1.2</text></g>
<g transform="translate(946.00,856.70) scale(1.0950,1.0000)"><text x="0" y="0" font-family='"Liberation Sans", sans-serif' font-size="20.20" font-weight="bold" font-style="normal" fill="#000" text-anchor="start" ><tspan font-style="italic">J</tspan><tspan font-size="14.5" dy="5.5">s</tspan><tspan dy="-5.5">=2×10</tspan><tspan font-size="14.5" dy="-8.5">-13</tspan><tspan dy="8.5"> A/cm</tspan><tspan font-size="14.5" dy="-8.5">2</tspan></text></g>
</svg></body></html>
